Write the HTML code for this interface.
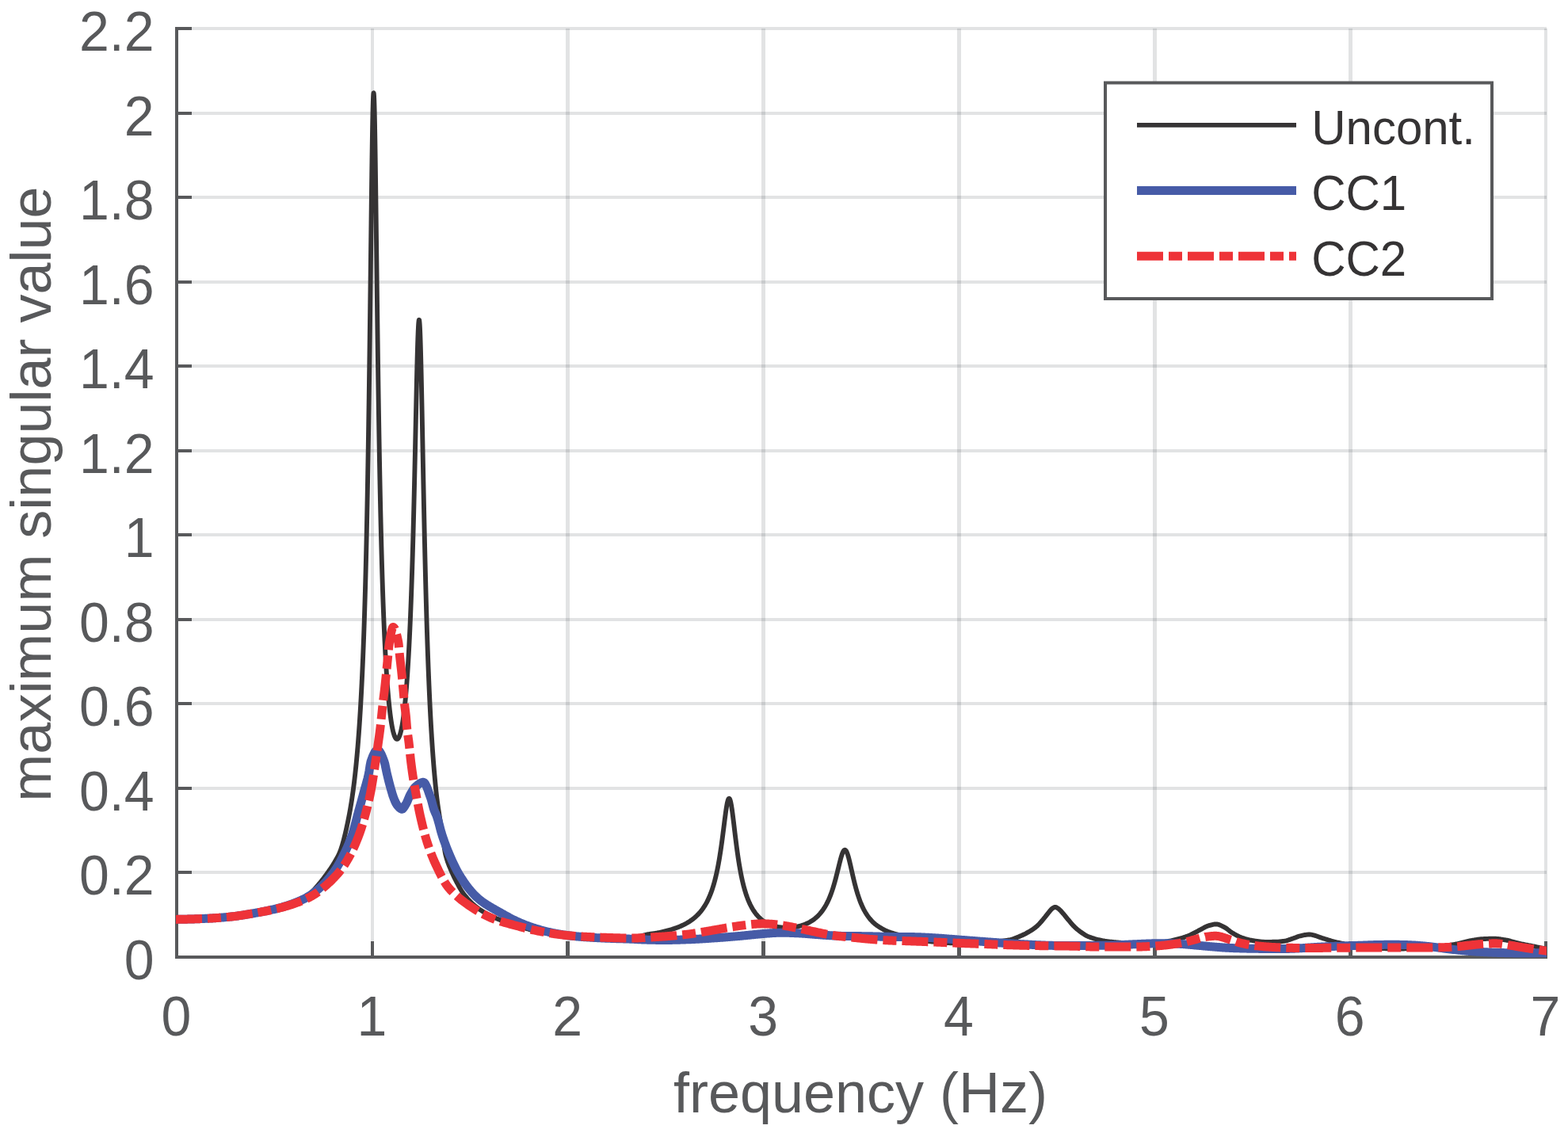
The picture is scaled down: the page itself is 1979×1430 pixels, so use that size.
<!DOCTYPE html>
<html lang="en"><head><meta charset="utf-8"><title>Maximum singular value vs frequency</title>
<style>
html,body{margin:0;padding:0;background:#fff;}
body{width:1979px;height:1430px;overflow:hidden;}
svg{display:block;}
text{font-family:"Liberation Sans", sans-serif;}
.tk{font-size:68px;fill:#58595b;}
.lb{font-size:72px;fill:#58595b;}
.lg{font-size:60px;fill:#353334;}
</style></head><body>
<svg width="1979" height="1430" viewBox="0 0 1979 1430" role="img" aria-label="Maximum singular value versus frequency">
<rect x="0" y="0" width="1979" height="1430" fill="#ffffff"/>
<g fill="#14161e" fill-opacity="0.12" shape-rendering="crispEdges">
<rect x="468" y="36" width="4" height="1170"/>
<rect x="714" y="36" width="5" height="1170"/>
<rect x="961" y="36" width="5" height="1170"/>
<rect x="1208" y="36" width="5" height="1170"/>
<rect x="1455" y="36" width="5" height="1170"/>
<rect x="1702" y="36" width="5" height="1170"/>
<rect x="1949" y="36" width="4" height="1170"/>
<rect x="225" y="1099" width="1727" height="4"/>
<rect x="225" y="993" width="1727" height="4"/>
<rect x="225" y="886" width="1727" height="4"/>
<rect x="225" y="780" width="1727" height="4"/>
<rect x="225" y="673" width="1727" height="4"/>
<rect x="225" y="567" width="1727" height="4"/>
<rect x="225" y="460" width="1727" height="4"/>
<rect x="225" y="354" width="1727" height="4"/>
<rect x="225" y="247" width="1727" height="4"/>
<rect x="225" y="141" width="1727" height="4"/>
<rect x="225" y="34" width="1727" height="4"/>
</g>
<g fill="#58595b" shape-rendering="crispEdges">
<rect x="221" y="34" width="4" height="1176"/>
<rect x="221" y="1206" width="1732" height="4"/>
<rect x="468" y="1188" width="4" height="20"/>
<rect x="714" y="1188" width="5" height="20"/>
<rect x="961" y="1188" width="5" height="20"/>
<rect x="1208" y="1188" width="5" height="20"/>
<rect x="1455" y="1188" width="5" height="20"/>
<rect x="1702" y="1188" width="5" height="20"/>
<rect x="1949" y="1188" width="4" height="20"/>
<rect x="223" y="1099" width="19" height="4"/>
<rect x="223" y="993" width="19" height="4"/>
<rect x="223" y="886" width="19" height="4"/>
<rect x="223" y="780" width="19" height="4"/>
<rect x="223" y="673" width="19" height="4"/>
<rect x="223" y="567" width="19" height="4"/>
<rect x="223" y="460" width="19" height="4"/>
<rect x="223" y="354" width="19" height="4"/>
<rect x="223" y="247" width="19" height="4"/>
<rect x="223" y="141" width="19" height="4"/>
<rect x="223" y="34" width="19" height="4"/>
</g>
<text class="tk" text-anchor="end" transform="translate(194.5 1236) scale(1 1.04)">0</text>
<text class="tk" text-anchor="end" transform="translate(194.5 1129.45) scale(1 1.04)">0.2</text>
<text class="tk" text-anchor="end" transform="translate(194.5 1022.91) scale(1 1.04)">0.4</text>
<text class="tk" text-anchor="end" transform="translate(194.5 916.36) scale(1 1.04)">0.6</text>
<text class="tk" text-anchor="end" transform="translate(194.5 809.82) scale(1 1.04)">0.8</text>
<text class="tk" text-anchor="end" transform="translate(194.5 703.27) scale(1 1.04)">1</text>
<text class="tk" text-anchor="end" transform="translate(194.5 596.73) scale(1 1.04)">1.2</text>
<text class="tk" text-anchor="end" transform="translate(194.5 490.18) scale(1 1.04)">1.4</text>
<text class="tk" text-anchor="end" transform="translate(194.5 383.64) scale(1 1.04)">1.6</text>
<text class="tk" text-anchor="end" transform="translate(194.5 277.09) scale(1 1.04)">1.8</text>
<text class="tk" text-anchor="end" transform="translate(194.5 170.55) scale(1 1.04)">2</text>
<text class="tk" text-anchor="end" transform="translate(194.5 64) scale(1 1.04)">2.2</text>
<text class="tk" text-anchor="middle" transform="translate(222.5 1307.3) scale(1 1.04)">0</text>
<text class="tk" text-anchor="middle" transform="translate(469.36 1307.3) scale(1 1.04)">1</text>
<text class="tk" text-anchor="middle" transform="translate(716.21 1307.3) scale(1 1.04)">2</text>
<text class="tk" text-anchor="middle" transform="translate(963.07 1307.3) scale(1 1.04)">3</text>
<text class="tk" text-anchor="middle" transform="translate(1209.93 1307.3) scale(1 1.04)">4</text>
<text class="tk" text-anchor="middle" transform="translate(1456.79 1307.3) scale(1 1.04)">5</text>
<text class="tk" text-anchor="middle" transform="translate(1703.64 1307.3) scale(1 1.04)">6</text>
<text class="tk" text-anchor="middle" transform="translate(1950.5 1307.3) scale(1 1.04)">7</text>
<text class="lb" text-anchor="middle" transform="translate(1086 1403.8) scale(1 1.0)">frequency (Hz)</text>
<text class="lb" text-anchor="middle" transform="translate(64 623.5) rotate(-90) scale(1 1.0)">maximum singular value</text>
<defs><clipPath id="plotclip"><rect x="222" y="20" width="1730" height="1200"/></clipPath></defs>
<g fill="none" stroke-linejoin="round" stroke-linecap="butt" clip-path="url(#plotclip)">
<path stroke="#353334" stroke-width="5.9" d="M219 1160.4 L220 1160.4 L221 1160.4 L222 1160.39 L223 1160.38 L224 1160.37 L225 1160.36 L226 1160.35 L227 1160.33 L228 1160.32 L229 1160.3 L230 1160.28 L231 1160.26 L232 1160.24 L233 1160.22 L234 1160.19 L235 1160.17 L236 1160.14 L237 1160.12 L238 1160.09 L239 1160.06 L240 1160.04 L241 1160.01 L242 1159.98 L243 1159.94 L244 1159.91 L245 1159.88 L246 1159.85 L247 1159.81 L248 1159.78 L249 1159.74 L250 1159.71 L251 1159.67 L252 1159.63 L253 1159.59 L254 1159.55 L255 1159.52 L256 1159.48 L257 1159.44 L258 1159.39 L259 1159.35 L260 1159.31 L260.7 1159.28 L261 1159.26 L262 1159.22 L263 1159.17 L264 1159.12 L265 1159.07 L266 1159.01 L267 1158.96 L268 1158.9 L269 1158.84 L270 1158.78 L271 1158.72 L272 1158.66 L273 1158.59 L274 1158.52 L275 1158.45 L276 1158.38 L277 1158.3 L278 1158.22 L279 1158.14 L280 1158.06 L281 1157.98 L282 1157.9 L283 1157.81 L284 1157.72 L285 1157.63 L286 1157.54 L287 1157.45 L288 1157.35 L289 1157.25 L290 1157.15 L291 1157.04 L292 1156.94 L293 1156.82 L294 1156.71 L295 1156.59 L296 1156.47 L297 1156.35 L298 1156.22 L299 1156.09 L300 1155.95 L301 1155.81 L302 1155.67 L303 1155.52 L304 1155.38 L305 1155.22 L306 1155.07 L307 1154.91 L308 1154.76 L309 1154.59 L310 1154.43 L311 1154.27 L312 1154.1 L313 1153.93 L314 1153.77 L315 1153.6 L316 1153.43 L317 1153.25 L318 1153.08 L319 1152.91 L320 1152.74 L321 1152.56 L321.4 1152.49 L322 1152.39 L323 1152.21 L324 1152.03 L325 1151.86 L326 1151.68 L327 1151.5 L328 1151.32 L329 1151.13 L330 1150.95 L331 1150.77 L332 1150.58 L333 1150.39 L334 1150.2 L335 1150 L336 1149.81 L337 1149.61 L338 1149.41 L339 1149.2 L340 1149 L341 1148.79 L342 1148.58 L343 1148.36 L344 1148.14 L345 1147.92 L346 1147.7 L347 1147.47 L348 1147.24 L349 1147 L350 1146.77 L351 1146.53 L351.7 1146.36 L352 1146.28 L353 1146.04 L354 1145.79 L355 1145.54 L356 1145.28 L357 1145.02 L358 1144.76 L359 1144.5 L360 1144.23 L361 1143.95 L362 1143.67 L363 1143.39 L364 1143.09 L365 1142.8 L366 1142.49 L367 1142.17 L368 1141.85 L369 1141.51 L370 1141.17 L371 1140.81 L372 1140.44 L373 1140.05 L374 1139.65 L375 1139.23 L376 1138.79 L377 1138.32 L378 1137.84 L379 1137.32 L380 1136.77 L381 1136.2 L382 1135.58 L382.1 1135.52 L383 1134.93 L384 1134.24 L385 1133.52 L386 1132.75 L387 1131.94 L388 1131.1 L389 1130.22 L390 1129.31 L391 1128.36 L392 1127.39 L393 1126.38 L394 1125.36 L395 1124.31 L396 1123.24 L397 1122.15 L397.8 1121.26 L398 1121.04 L399 1119.92 L400 1118.77 L401 1117.62 L402 1116.44 L403 1115.25 L404 1114.04 L405 1112.82 L406 1111.57 L406.3 1111.19 L407 1110.31 L408 1109.02 L409 1107.72 L410 1106.4 L411 1105.05 L412 1103.69 L413 1102.31 L414 1100.91 L415 1099.48 L416 1098.04 L417 1096.57 L418 1095.06 L419 1093.53 L419.8 1092.27 L420 1091.95 L421 1090.35 L422 1088.72 L423 1087.05 L424 1085.34 L425 1083.58 L425.25 1083.12 L425.5 1082.67 L425.75 1082.21 L426 1081.74 L426.25 1081.26 L426.5 1080.77 L426.75 1080.28 L427 1079.77 L427.25 1079.26 L427.5 1078.73 L427.75 1078.19 L428 1077.63 L428.25 1077.06 L428.5 1076.48 L428.75 1075.88 L429 1075.27 L429.25 1074.64 L429.5 1073.99 L429.75 1073.32 L430 1072.63 L430.25 1071.93 L430.5 1071.21 L430.75 1070.47 L431 1069.71 L431.25 1068.93 L431.5 1068.14 L431.75 1067.33 L432 1066.5 L432.25 1065.66 L432.5 1064.79 L432.75 1063.92 L433 1063.02 L433.25 1062.11 L433.5 1061.18 L433.75 1060.24 L434 1059.28 L434.25 1058.31 L434.5 1057.32 L434.75 1056.32 L435 1055.3 L435.25 1054.27 L435.5 1053.23 L435.6 1052.81 L435.75 1052.17 L436 1051.1 L436.25 1050.01 L436.5 1048.91 L436.75 1047.8 L437 1046.68 L437.25 1045.54 L437.5 1044.4 L437.75 1043.25 L438 1042.09 L438.25 1040.92 L438.5 1039.74 L438.75 1038.55 L439 1037.35 L439.25 1036.14 L439.5 1034.91 L439.75 1033.68 L440 1032.43 L440.25 1031.16 L440.5 1029.88 L440.75 1028.57 L441 1027.24 L441.25 1025.89 L441.5 1024.52 L441.75 1023.13 L442 1021.71 L442.25 1020.27 L442.3 1019.98 L442.5 1018.81 L442.75 1017.32 L443 1015.8 L443.25 1014.26 L443.5 1012.7 L443.75 1011.1 L444 1009.48 L444.25 1007.83 L444.5 1006.15 L444.75 1004.44 L445 1002.69 L445.25 1000.92 L445.5 999.11 L445.75 997.27 L446 995.39 L446.25 993.48 L446.4 992.31 L446.5 991.53 L446.75 989.54 L447 987.52 L447.25 985.45 L447.5 983.35 L447.75 981.2 L448 979.01 L448.25 976.77 L448.5 974.48 L448.6 973.56 L448.75 972.15 L449 969.77 L449.25 967.34 L449.5 964.86 L449.75 962.32 L450 959.73 L450.25 957.08 L450.5 954.37 L450.75 951.6 L451 948.77 L451.25 945.87 L451.3 945.28 L451.5 942.91 L451.75 939.87 L452 936.76 L452.25 933.58 L452.5 930.32 L452.75 926.99 L453 923.57 L453.25 920.06 L453.5 916.47 L453.75 912.78 L453.8 912.03 L454 909 L454.25 905.12 L454.5 901.13 L454.75 897.04 L455 892.84 L455.05 891.99 L455.1 891.13 L455.15 890.27 L455.2 889.4 L455.25 888.53 L455.3 887.65 L455.35 886.77 L455.4 885.88 L455.45 884.99 L455.5 884.1 L455.55 883.2 L455.6 882.29 L455.65 881.38 L455.7 880.46 L455.75 879.54 L455.8 878.61 L455.85 877.68 L455.9 876.74 L455.95 875.8 L456 874.85 L456.05 873.9 L456.1 872.94 L456.15 871.98 L456.2 871.01 L456.25 870.04 L456.3 869.05 L456.35 868.07 L456.4 867.08 L456.45 866.08 L456.5 865.08 L456.55 864.07 L456.6 863.05 L456.65 862.03 L456.7 861.01 L456.75 859.97 L456.8 858.93 L456.85 857.89 L456.9 856.84 L456.95 855.78 L457 854.72 L457.05 853.65 L457.1 852.57 L457.15 851.49 L457.2 850.4 L457.25 849.31 L457.3 848.21 L457.35 847.1 L457.4 845.98 L457.45 844.86 L457.5 843.73 L457.55 842.6 L457.6 841.46 L457.65 840.31 L457.7 839.15 L457.75 837.99 L457.8 836.82 L457.85 835.64 L457.9 834.46 L457.95 833.26 L458 832.06 L458.05 830.86 L458.1 829.64 L458.15 828.42 L458.2 827.19 L458.25 825.96 L458.3 824.71 L458.35 823.46 L458.4 822.2 L458.45 820.93 L458.5 819.65 L458.55 818.37 L458.6 817.08 L458.65 815.78 L458.7 814.47 L458.75 813.15 L458.8 811.83 L458.85 810.49 L458.9 809.15 L458.95 807.8 L459 806.44 L459.05 805.07 L459.1 803.69 L459.15 802.3 L459.2 800.91 L459.25 799.5 L459.3 798.09 L459.35 796.67 L459.4 795.23 L459.45 793.79 L459.5 792.34 L459.55 790.88 L459.6 789.41 L459.65 787.93 L459.7 786.44 L459.75 784.94 L459.8 783.43 L459.85 781.91 L459.9 780.38 L459.95 778.84 L460 777.28 L460.05 775.72 L460.1 774.15 L460.15 772.57 L460.2 770.97 L460.25 769.37 L460.3 767.75 L460.35 766.13 L460.4 764.49 L460.45 762.84 L460.5 761.18 L460.55 759.51 L460.6 757.83 L460.65 756.13 L460.7 754.43 L460.75 752.71 L460.8 750.98 L460.85 749.24 L460.9 747.48 L460.95 745.71 L461 743.94 L461.05 742.14 L461.1 740.34 L461.15 738.52 L461.2 736.69 L461.25 734.85 L461.3 733 L461.35 731.13 L461.4 729.25 L461.45 727.35 L461.5 725.44 L461.55 723.52 L461.6 721.58 L461.65 719.63 L461.7 717.67 L461.75 715.69 L461.8 713.7 L461.85 711.69 L461.9 709.67 L461.95 707.64 L462 705.59 L462.05 703.52 L462.1 701.44 L462.15 699.35 L462.2 697.24 L462.25 695.11 L462.3 692.97 L462.35 690.81 L462.4 688.64 L462.45 686.45 L462.5 684.25 L462.55 682.03 L462.6 679.79 L462.65 677.54 L462.7 675.27 L462.75 672.98 L462.8 670.68 L462.85 668.36 L462.9 666.02 L462.95 663.67 L463 661.3 L463.05 658.91 L463.1 656.5 L463.15 654.07 L463.2 651.63 L463.25 649.17 L463.3 646.69 L463.35 644.2 L463.4 641.68 L463.45 639.15 L463.5 636.59 L463.55 634.02 L463.6 631.43 L463.65 628.82 L463.7 626.19 L463.75 623.54 L463.8 620.88 L463.85 618.19 L463.9 615.48 L463.95 612.75 L464 610.01 L464.05 607.24 L464.1 604.45 L464.15 601.64 L464.2 598.82 L464.25 595.97 L464.3 593.1 L464.35 590.21 L464.4 587.29 L464.45 584.36 L464.5 581.41 L464.55 578.43 L464.6 575.43 L464.65 572.42 L464.7 569.38 L464.75 566.31 L464.8 563.23 L464.85 560.12 L464.9 557 L464.95 553.85 L465 550.68 L465.05 547.48 L465.1 544.27 L465.15 541.03 L465.2 537.77 L465.25 534.49 L465.3 531.18 L465.35 527.85 L465.4 524.5 L465.45 521.13 L465.5 517.73 L465.55 514.32 L465.6 510.88 L465.65 507.41 L465.7 503.93 L465.75 500.42 L465.8 496.89 L465.85 493.34 L465.9 489.77 L465.95 486.17 L466 482.55 L466.05 478.91 L466.1 475.25 L466.15 471.56 L466.2 467.86 L466.25 464.13 L466.3 460.38 L466.35 456.62 L466.4 452.83 L466.45 449.02 L466.5 445.18 L466.55 441.33 L466.6 437.46 L466.65 433.57 L466.7 429.66 L466.75 425.73 L466.8 421.79 L466.85 417.82 L466.9 413.84 L466.95 409.84 L467 405.82 L467.05 401.79 L467.07 400.17 L467.1 397.74 L467.15 393.67 L467.2 389.59 L467.25 385.49 L467.3 381.39 L467.35 377.26 L467.4 373.13 L467.45 368.98 L467.5 364.83 L467.55 360.66 L467.6 356.48 L467.65 352.3 L467.7 348.1 L467.75 343.9 L467.8 339.69 L467.85 335.48 L467.9 331.26 L467.95 327.04 L468 322.82 L468.05 318.6 L468.1 314.37 L468.15 310.15 L468.2 305.93 L468.25 301.72 L468.3 297.5 L468.35 293.3 L468.4 289.1 L468.45 284.91 L468.5 280.73 L468.55 276.57 L468.6 272.41 L468.65 268.28 L468.7 264.15 L468.75 260.05 L468.8 255.96 L468.85 251.9 L468.9 247.86 L468.95 243.85 L469 239.86 L469.05 235.9 L469.1 231.97 L469.15 228.07 L469.2 224.21 L469.25 220.38 L469.3 216.59 L469.35 212.84 L469.4 209.13 L469.45 205.47 L469.5 201.85 L469.55 198.28 L469.6 194.76 L469.65 191.3 L469.7 187.89 L469.75 184.53 L469.8 181.23 L469.85 178 L469.9 174.82 L469.95 171.72 L470 168.67 L470.05 165.7 L470.1 162.8 L470.15 159.97 L470.2 157.22 L470.25 154.55 L470.3 151.95 L470.35 149.43 L470.4 147 L470.45 144.65 L470.5 142.39 L470.55 140.22 L470.6 138.14 L470.65 136.15 L470.7 134.25 L470.75 132.45 L470.8 130.74 L470.85 129.13 L470.9 127.62 L470.95 126.21 L471 124.9 L471.05 123.69 L471.1 122.59 L471.15 121.59 L471.2 120.69 L471.25 119.9 L471.3 119.22 L471.35 118.65 L471.4 118.18 L471.45 117.82 L471.5 117.56 L471.55 117.42 L471.6 117.38 L471.65 117.45 L471.7 117.63 L471.75 117.92 L471.8 118.31 L471.85 118.81 L471.9 119.42 L471.95 120.13 L472 120.95 L472.05 121.87 L472.1 122.9 L472.15 124.03 L472.2 125.26 L472.25 126.59 L472.3 128.01 L472.35 129.54 L472.4 131.16 L472.45 132.88 L472.5 134.69 L472.55 136.59 L472.6 138.58 L472.65 140.66 L472.7 142.83 L472.75 145.08 L472.8 147.42 L472.85 149.83 L472.9 152.33 L472.95 154.9 L473 157.55 L473.05 160.27 L473.1 163.07 L473.15 165.93 L473.2 168.86 L473.25 171.86 L473.3 174.91 L473.35 178.03 L473.4 181.21 L473.45 184.45 L473.5 187.74 L473.55 191.08 L473.6 194.48 L473.65 197.92 L473.7 201.41 L473.75 204.94 L473.8 208.52 L473.85 212.14 L473.9 215.79 L473.95 219.49 L474 223.21 L474.05 226.97 L474.1 230.76 L474.15 234.58 L474.2 238.43 L474.25 242.3 L474.3 246.2 L474.35 250.12 L474.4 254.06 L474.45 258.02 L474.5 261.99 L474.55 265.98 L474.6 269.99 L474.65 274.01 L474.7 278.04 L474.75 282.07 L474.8 286.12 L474.85 290.18 L474.9 294.24 L474.95 298.3 L475 302.37 L475.05 306.44 L475.1 310.51 L475.15 314.58 L475.2 318.64 L475.25 322.71 L475.3 326.77 L475.35 330.83 L475.4 334.89 L475.45 338.93 L475.5 342.97 L475.55 347.01 L475.6 351.03 L475.65 355.04 L475.7 359.05 L475.75 363.04 L475.8 367.02 L475.85 370.99 L475.9 374.95 L475.95 378.89 L476 382.82 L476.05 386.73 L476.1 390.63 L476.15 394.51 L476.2 398.38 L476.25 402.23 L476.3 406.07 L476.35 409.88 L476.4 413.68 L476.45 417.46 L476.5 421.22 L476.55 424.97 L476.6 428.69 L476.65 432.4 L476.7 436.08 L476.75 439.75 L476.8 443.39 L476.85 447.02 L476.9 450.62 L476.95 454.21 L477 457.77 L477.05 461.31 L477.1 464.83 L477.15 468.33 L477.2 471.81 L477.25 475.27 L477.3 478.71 L477.35 482.12 L477.4 485.51 L477.45 488.88 L477.5 492.23 L477.55 495.56 L477.6 498.87 L477.65 502.15 L477.7 505.41 L477.75 508.65 L477.8 511.87 L477.85 515.07 L477.9 518.24 L477.95 521.39 L478 524.52 L478.05 527.63 L478.1 530.72 L478.15 533.79 L478.2 536.83 L478.25 539.85 L478.3 542.85 L478.35 545.83 L478.4 548.79 L478.45 551.73 L478.5 554.64 L478.55 557.54 L478.6 560.41 L478.65 563.27 L478.7 566.1 L478.75 568.91 L478.8 571.7 L478.85 574.47 L478.9 577.22 L478.95 579.95 L479 582.66 L479.05 585.35 L479.1 588.02 L479.15 590.67 L479.2 593.3 L479.25 595.91 L479.3 598.5 L479.35 601.07 L479.4 603.62 L479.45 606.16 L479.5 608.67 L479.55 611.17 L479.6 613.64 L479.65 616.1 L479.7 618.54 L479.75 620.96 L479.8 623.37 L479.85 625.75 L479.9 628.12 L479.95 630.47 L480 632.8 L480.05 635.11 L480.1 637.41 L480.15 639.69 L480.2 641.95 L480.25 644.2 L480.3 646.43 L480.35 648.64 L480.4 650.83 L480.45 653.01 L480.5 655.17 L480.55 657.32 L480.6 659.45 L480.65 661.56 L480.7 663.66 L480.75 665.74 L480.8 667.8 L480.85 669.85 L480.9 671.89 L480.95 673.91 L481 675.91 L481.05 677.9 L481.1 679.88 L481.15 681.84 L481.2 683.78 L481.25 685.71 L481.3 687.63 L481.35 689.53 L481.4 691.42 L481.45 693.29 L481.5 695.15 L481.55 697 L481.6 698.83 L481.65 700.65 L481.7 702.46 L481.75 704.25 L481.8 706.03 L481.85 707.79 L481.9 709.54 L481.95 711.28 L482 713.01 L482.05 714.72 L482.1 716.42 L482.15 718.11 L482.2 719.79 L482.25 721.45 L482.3 723.1 L482.35 724.74 L482.4 726.37 L482.45 727.99 L482.5 729.59 L482.55 731.18 L482.6 732.76 L482.65 734.33 L482.7 735.89 L482.75 737.43 L482.8 738.97 L482.85 740.49 L482.9 742.01 L482.95 743.51 L483 745 L483.05 746.48 L483.1 747.95 L483.15 749.41 L483.2 750.86 L483.25 752.29 L483.3 753.72 L483.35 755.14 L483.4 756.55 L483.45 757.94 L483.5 759.33 L483.55 760.71 L483.6 762.08 L483.65 763.43 L483.7 764.78 L483.75 766.12 L483.8 767.45 L483.85 768.77 L483.9 770.08 L483.95 771.38 L484 772.67 L484.05 773.95 L484.1 775.23 L484.15 776.49 L484.2 777.75 L484.25 778.99 L484.3 780.23 L484.35 781.46 L484.4 782.68 L484.45 783.9 L484.5 785.1 L484.55 786.29 L484.6 787.48 L484.65 788.66 L484.7 789.83 L484.75 790.99 L484.8 792.15 L484.85 793.29 L484.9 794.43 L484.95 795.56 L485 796.68 L485.05 797.8 L485.1 798.91 L485.15 800 L485.2 801.1 L485.25 802.18 L485.3 803.26 L485.35 804.33 L485.4 805.39 L485.45 806.44 L485.5 807.49 L485.55 808.53 L485.6 809.56 L485.65 810.59 L485.7 811.61 L485.75 812.62 L485.8 813.63 L485.85 814.62 L485.9 815.61 L485.95 816.6 L486 817.58 L486.05 818.55 L486.1 819.51 L486.15 820.47 L486.2 821.42 L486.25 822.37 L486.3 823.31 L486.35 824.24 L486.4 825.16 L486.45 826.08 L486.5 827 L486.55 827.9 L486.6 828.8 L486.65 829.7 L486.7 830.59 L486.75 831.47 L486.8 832.35 L486.85 833.22 L486.9 834.08 L486.95 834.94 L487 835.8 L487.05 836.64 L487.1 837.49 L487.15 838.32 L487.2 839.15 L487.25 839.98 L487.3 840.8 L487.35 841.61 L487.4 842.42 L487.45 843.22 L487.5 844.02 L487.55 844.81 L487.6 845.6 L487.65 846.38 L487.7 847.15 L487.75 847.93 L487.8 848.69 L487.85 849.45 L487.9 850.21 L487.95 850.96 L488 851.7 L488.05 852.44 L488.1 853.18 L488.15 853.91 L488.2 854.63 L488.25 855.36 L488.3 856.07 L488.35 856.78 L488.4 857.49 L488.45 858.19 L488.5 858.89 L488.55 859.58 L488.6 860.27 L488.65 860.95 L488.7 861.63 L488.75 862.3 L488.8 862.97 L488.85 863.63 L488.9 864.29 L488.95 864.95 L489 865.6 L489.05 866.25 L489.1 866.89 L489.15 867.52 L489.2 868.16 L489.25 868.79 L489.3 869.41 L489.35 870.03 L489.4 870.65 L489.45 871.26 L489.5 871.87 L489.55 872.47 L489.6 873.07 L489.65 873.67 L489.7 874.26 L489.75 874.85 L489.8 875.43 L489.85 876.01 L489.9 876.59 L489.95 877.16 L490 877.73 L490.05 878.29 L490.1 878.85 L490.15 879.41 L490.2 879.96 L490.25 880.51 L490.3 881.05 L490.35 881.59 L490.4 882.13 L490.45 882.66 L490.5 883.19 L490.55 883.72 L490.6 884.24 L490.65 884.76 L490.7 885.27 L490.75 885.78 L490.8 886.29 L490.85 886.8 L490.9 887.3 L490.95 887.79 L491 888.29 L491.05 888.78 L491.1 889.26 L491.15 889.75 L491.2 890.23 L491.25 890.7 L491.3 891.18 L491.35 891.65 L491.4 892.11 L491.45 892.57 L491.5 893.03 L491.55 893.49 L491.6 893.94 L491.65 894.39 L491.7 894.84 L491.75 895.28 L491.8 895.72 L491.85 896.16 L491.9 896.59 L491.95 897.02 L492 897.45 L492.05 897.87 L492.1 898.29 L492.15 898.71 L492.2 899.13 L492.25 899.54 L492.3 899.95 L492.35 900.35 L492.4 900.75 L492.45 901.15 L492.5 901.55 L492.55 901.94 L492.6 902.33 L492.65 902.72 L492.7 903.1 L492.75 903.48 L492.8 903.86 L492.85 904.24 L492.9 904.61 L492.95 904.98 L493 905.35 L493.05 905.71 L493.1 906.07 L493.15 906.43 L493.2 906.79 L493.25 907.14 L493.3 907.49 L493.35 907.83 L493.4 908.18 L493.45 908.52 L493.5 908.86 L493.55 909.19 L493.6 909.53 L493.65 909.86 L493.7 910.19 L493.75 910.51 L493.8 910.83 L493.85 911.15 L493.9 911.47 L493.95 911.78 L494 912.09 L494.05 912.4 L494.1 912.71 L494.15 913.01 L494.2 913.31 L494.25 913.61 L494.3 913.91 L494.35 914.2 L494.4 914.49 L494.45 914.78 L494.5 915.07 L494.55 915.35 L494.6 915.63 L494.65 915.91 L494.7 916.18 L494.75 916.46 L494.8 916.73 L494.85 916.99 L494.9 917.26 L494.95 917.52 L495 917.78 L495.05 918.04 L495.1 918.3 L495.15 918.55 L495.2 918.8 L495.25 919.05 L495.3 919.29 L495.35 919.54 L495.4 919.78 L495.45 920.02 L495.5 920.25 L495.55 920.49 L495.6 920.72 L495.65 920.95 L495.7 921.17 L495.75 921.4 L495.8 921.62 L495.85 921.84 L495.9 922.06 L495.95 922.27 L496 922.49 L496.05 922.7 L496.1 922.9 L496.15 923.11 L496.2 923.31 L496.25 923.52 L496.3 923.71 L496.35 923.91 L496.4 924.11 L496.45 924.3 L496.5 924.49 L496.55 924.68 L496.6 924.86 L496.65 925.04 L496.7 925.23 L496.75 925.4 L496.8 925.58 L496.85 925.76 L496.9 925.93 L496.95 926.1 L497 926.27 L497.05 926.43 L497.1 926.59 L497.15 926.76 L497.2 926.91 L497.25 927.07 L497.3 927.23 L497.35 927.38 L497.4 927.53 L497.45 927.68 L497.5 927.82 L497.55 927.97 L497.6 928.11 L497.65 928.25 L497.7 928.39 L497.75 928.52 L497.8 928.65 L497.85 928.79 L497.9 928.91 L497.95 929.04 L498 929.17 L498.05 929.29 L498.1 929.41 L498.15 929.53 L498.2 929.64 L498.25 929.76 L498.3 929.87 L498.35 929.98 L498.4 930.09 L498.45 930.2 L498.5 930.3 L498.55 930.4 L498.6 930.5 L498.65 930.6 L498.7 930.7 L498.75 930.79 L498.8 930.88 L498.85 930.97 L498.9 931.06 L498.95 931.14 L499 931.23 L499.05 931.31 L499.1 931.39 L499.15 931.46 L499.2 931.54 L499.25 931.61 L499.3 931.68 L499.35 931.75 L499.4 931.82 L499.45 931.89 L499.5 931.95 L499.55 932.01 L499.6 932.07 L499.65 932.13 L499.7 932.18 L499.75 932.23 L499.8 932.28 L499.85 932.33 L499.9 932.38 L499.95 932.43 L500 932.47 L500.05 932.51 L500.1 932.55 L500.15 932.59 L500.2 932.62 L500.25 932.65 L500.3 932.68 L500.35 932.71 L500.4 932.74 L500.45 932.77 L500.5 932.79 L500.55 932.81 L500.6 932.83 L500.65 932.85 L500.7 932.86 L500.75 932.87 L500.8 932.88 L500.85 932.89 L500.9 932.9 L500.95 932.91 L501 932.91 L501.05 932.91 L501.1 932.91 L501.15 932.91 L501.2 932.9 L501.25 932.89 L501.3 932.88 L501.35 932.87 L501.4 932.86 L501.45 932.85 L501.5 932.83 L501.55 932.81 L501.6 932.79 L501.65 932.77 L501.7 932.74 L501.75 932.72 L501.8 932.69 L501.85 932.66 L501.9 932.62 L501.95 932.59 L502 932.55 L502.05 932.51 L502.1 932.47 L502.15 932.43 L502.2 932.38 L502.25 932.34 L502.3 932.29 L502.35 932.24 L502.4 932.19 L502.45 932.13 L502.5 932.07 L502.55 932.02 L502.6 931.95 L502.65 931.89 L502.7 931.83 L502.75 931.76 L502.8 931.69 L502.85 931.62 L502.9 931.55 L502.95 931.47 L503 931.4 L503.05 931.32 L503.1 931.24 L503.15 931.15 L503.2 931.07 L503.25 930.98 L503.3 930.89 L503.35 930.8 L503.4 930.71 L503.45 930.61 L503.5 930.51 L503.55 930.41 L503.6 930.31 L503.65 930.21 L503.7 930.1 L503.75 930 L503.8 929.89 L503.85 929.77 L503.9 929.66 L503.95 929.54 L504 929.43 L504.05 929.31 L504.1 929.18 L504.15 929.06 L504.2 928.93 L504.25 928.8 L504.3 928.67 L504.35 928.54 L504.4 928.41 L504.45 928.27 L504.5 928.13 L504.55 927.99 L504.6 927.85 L504.65 927.7 L504.7 927.55 L504.75 927.4 L504.8 927.25 L504.85 927.1 L504.9 926.94 L504.95 926.78 L505 926.62 L505.05 926.46 L505.1 926.3 L505.15 926.13 L505.2 925.96 L505.25 925.79 L505.3 925.61 L505.35 925.44 L505.4 925.26 L505.45 925.08 L505.5 924.9 L505.55 924.71 L505.6 924.53 L505.65 924.34 L505.7 924.15 L505.75 923.95 L505.8 923.76 L505.85 923.56 L505.9 923.36 L505.95 923.16 L506 922.95 L506.05 922.74 L506.1 922.53 L506.15 922.32 L506.2 922.11 L506.25 921.89 L506.3 921.67 L506.35 921.45 L506.4 921.23 L506.45 921.01 L506.5 920.78 L506.55 920.55 L506.6 920.31 L506.65 920.08 L506.7 919.84 L506.75 919.6 L506.8 919.36 L506.85 919.12 L506.9 918.87 L506.95 918.62 L507 918.37 L507.05 918.12 L507.1 917.86 L507.15 917.6 L507.2 917.34 L507.25 917.08 L507.3 916.81 L507.35 916.54 L507.4 916.27 L507.45 916 L507.5 915.72 L507.55 915.44 L507.6 915.16 L507.65 914.88 L507.7 914.59 L507.75 914.3 L507.8 914.01 L507.85 913.72 L507.9 913.42 L507.95 913.12 L508 912.82 L508.05 912.52 L508.1 912.21 L508.15 911.9 L508.2 911.59 L508.25 911.27 L508.3 910.96 L508.35 910.64 L508.4 910.32 L508.45 909.99 L508.5 909.66 L508.55 909.33 L508.6 909 L508.65 908.66 L508.7 908.32 L508.75 907.98 L508.8 907.64 L508.85 907.29 L508.9 906.94 L508.95 906.59 L509 906.24 L509.05 905.88 L509.1 905.52 L509.15 905.15 L509.2 904.79 L509.25 904.42 L509.3 904.05 L509.35 903.67 L509.4 903.29 L509.45 902.91 L509.5 902.53 L509.55 902.14 L509.6 901.75 L509.65 901.36 L509.7 900.96 L509.75 900.57 L509.8 900.16 L509.85 899.76 L509.9 899.35 L509.95 898.94 L510 898.53 L510.05 898.11 L510.1 897.69 L510.15 897.27 L510.2 896.84 L510.25 896.42 L510.3 895.98 L510.35 895.55 L510.4 895.11 L510.45 894.67 L510.5 894.22 L510.55 893.78 L510.6 893.32 L510.65 892.87 L510.7 892.41 L510.75 891.95 L510.8 891.49 L510.85 891.02 L510.9 890.55 L510.95 890.07 L511 889.6 L511.05 889.12 L511.1 888.63 L511.15 888.14 L511.2 887.65 L511.25 887.16 L511.3 886.66 L511.35 886.16 L511.4 885.65 L511.45 885.15 L511.5 884.63 L511.55 884.12 L511.6 883.6 L511.65 883.08 L511.7 882.55 L511.75 882.02 L511.8 881.49 L511.85 880.95 L511.9 880.41 L511.95 879.86 L512 879.32 L512.05 878.76 L512.1 878.21 L512.15 877.65 L512.2 877.09 L512.25 876.52 L512.3 875.95 L512.35 875.37 L512.4 874.79 L512.45 874.21 L512.5 873.62 L512.55 873.03 L512.6 872.44 L512.65 871.84 L512.7 871.24 L512.75 870.63 L512.8 870.02 L512.85 869.41 L512.9 868.79 L512.95 868.16 L513 867.54 L513.05 866.9 L513.1 866.27 L513.15 865.63 L513.2 864.99 L513.25 864.34 L513.3 863.68 L513.35 863.03 L513.4 862.37 L513.45 861.7 L513.5 861.03 L513.55 860.36 L513.6 859.68 L513.65 858.99 L513.7 858.31 L513.75 857.61 L513.8 856.92 L513.85 856.21 L513.9 855.51 L513.95 854.8 L514 854.08 L514.05 853.36 L514.1 852.64 L514.15 851.91 L514.2 851.17 L514.25 850.43 L514.3 849.69 L514.35 848.94 L514.4 848.18 L514.45 847.43 L514.5 846.66 L514.55 845.89 L514.6 845.12 L514.65 844.34 L514.7 843.56 L514.75 842.77 L514.8 841.97 L514.85 841.17 L514.9 840.37 L514.95 839.56 L515 838.74 L515.05 837.92 L515.1 837.09 L515.15 836.26 L515.2 835.43 L515.25 834.58 L515.3 833.74 L515.35 832.88 L515.4 832.02 L515.45 831.16 L515.5 830.29 L515.55 829.41 L515.6 828.53 L515.65 827.64 L515.7 826.75 L515.75 825.85 L515.8 824.95 L515.85 824.04 L515.9 823.12 L515.95 822.2 L516 821.27 L516.05 820.34 L516.1 819.4 L516.15 818.45 L516.2 817.5 L516.25 816.54 L516.3 815.57 L516.35 814.6 L516.4 813.62 L516.45 812.64 L516.5 811.65 L516.55 810.65 L516.6 809.65 L516.65 808.64 L516.7 807.62 L516.75 806.6 L516.8 805.57 L516.85 804.53 L516.9 803.49 L516.95 802.44 L517 801.38 L517.05 800.32 L517.1 799.25 L517.15 798.17 L517.2 797.09 L517.25 796 L517.3 794.9 L517.35 793.79 L517.4 792.68 L517.45 791.56 L517.5 790.44 L517.55 789.3 L517.6 788.16 L517.65 787.01 L517.7 785.85 L517.75 784.69 L517.8 783.52 L517.85 782.34 L517.9 781.15 L517.95 779.96 L518 778.76 L518.05 777.55 L518.1 776.33 L518.15 775.11 L518.2 773.87 L518.25 772.63 L518.3 771.38 L518.35 770.13 L518.4 768.86 L518.45 767.59 L518.5 766.31 L518.55 765.02 L518.6 763.72 L518.65 762.41 L518.7 761.1 L518.75 759.77 L518.8 758.44 L518.85 757.1 L518.9 755.76 L518.95 754.4 L519 753.03 L519.05 751.66 L519.1 750.28 L519.15 748.88 L519.2 747.48 L519.25 746.07 L519.3 744.66 L519.35 743.23 L519.4 741.79 L519.45 740.35 L519.5 738.89 L519.55 737.43 L519.6 735.96 L519.65 734.47 L519.7 732.98 L519.75 731.48 L519.8 729.97 L519.85 728.45 L519.9 726.93 L519.95 725.39 L520 723.84 L520.05 722.28 L520.1 720.72 L520.15 719.14 L520.2 717.55 L520.25 715.96 L520.3 714.35 L520.35 712.74 L520.4 711.11 L520.45 709.48 L520.5 707.83 L520.55 706.18 L520.6 704.51 L520.65 702.84 L520.7 701.15 L520.75 699.46 L520.8 697.76 L520.85 696.04 L520.9 694.32 L520.95 692.58 L521 690.84 L521.05 689.08 L521.1 687.32 L521.15 685.54 L521.2 683.76 L521.25 681.96 L521.3 680.16 L521.35 678.34 L521.4 676.51 L521.45 674.68 L521.5 672.83 L521.55 670.97 L521.6 669.11 L521.65 667.23 L521.7 665.34 L521.75 663.45 L521.8 661.54 L521.85 659.62 L521.9 657.69 L521.95 655.76 L522 653.81 L522.05 651.85 L522.1 649.88 L522.15 647.9 L522.2 645.92 L522.25 643.92 L522.3 641.91 L522.35 639.89 L522.4 637.87 L522.45 635.83 L522.5 633.79 L522.55 631.73 L522.6 629.66 L522.65 627.59 L522.7 625.51 L522.75 623.41 L522.8 621.31 L522.85 619.2 L522.9 617.08 L522.95 614.95 L523 612.82 L523.05 610.67 L523.1 608.52 L523.15 606.35 L523.2 604.18 L523.25 602.01 L523.3 599.82 L523.35 597.63 L523.4 595.42 L523.45 593.21 L523.5 591 L523.55 588.78 L523.6 586.55 L523.65 584.31 L523.7 582.07 L523.75 579.82 L523.8 577.56 L523.85 575.3 L523.9 573.04 L523.95 570.77 L524 568.49 L524.05 566.21 L524.1 563.93 L524.15 561.64 L524.2 559.34 L524.25 557.05 L524.3 554.75 L524.35 552.45 L524.4 550.14 L524.45 547.84 L524.5 545.53 L524.55 543.22 L524.6 540.91 L524.65 538.6 L524.7 536.29 L524.75 533.97 L524.8 531.66 L524.85 529.35 L524.9 527.05 L524.95 524.74 L525 522.44 L525.05 520.14 L525.1 517.84 L525.15 515.54 L525.2 513.26 L525.25 510.97 L525.3 508.69 L525.35 506.42 L525.4 504.16 L525.45 501.9 L525.5 499.65 L525.55 497.4 L525.6 495.17 L525.65 492.95 L525.7 490.73 L525.75 488.53 L525.8 486.34 L525.85 484.16 L525.9 482 L525.95 479.84 L526 477.71 L526.05 475.58 L526.1 473.48 L526.15 471.38 L526.2 469.31 L526.25 467.25 L526.3 465.22 L526.35 463.2 L526.4 461.2 L526.45 459.23 L526.5 457.27 L526.55 455.34 L526.6 453.43 L526.65 451.54 L526.7 449.68 L526.75 447.85 L526.8 446.04 L526.85 444.26 L526.9 442.5 L526.95 440.78 L527 439.08 L527.05 437.42 L527.1 435.79 L527.15 434.18 L527.2 432.62 L527.25 431.08 L527.3 429.58 L527.35 428.11 L527.4 426.68 L527.45 425.29 L527.5 423.94 L527.55 422.62 L527.6 421.34 L527.65 420.1 L527.7 418.9 L527.75 417.74 L527.8 416.63 L527.85 415.55 L527.9 414.52 L527.95 413.54 L528 412.59 L528.05 411.7 L528.1 410.84 L528.15 410.04 L528.2 409.28 L528.25 408.56 L528.3 407.9 L528.35 407.28 L528.4 406.71 L528.45 406.19 L528.5 405.72 L528.55 405.3 L528.6 404.92 L528.65 404.6 L528.7 404.33 L528.75 404.11 L528.8 403.94 L528.85 403.82 L528.9 403.76 L528.95 403.74 L529 403.78 L529.05 403.86 L529.1 404 L529.15 404.2 L529.2 404.44 L529.25 404.73 L529.3 405.08 L529.35 405.48 L529.4 405.93 L529.45 406.43 L529.5 406.98 L529.55 407.58 L529.6 408.23 L529.65 408.93 L529.7 409.69 L529.75 410.49 L529.8 411.34 L529.85 412.24 L529.9 413.19 L529.95 414.18 L530 415.23 L530.05 416.32 L530.1 417.45 L530.15 418.64 L530.2 419.87 L530.25 421.14 L530.3 422.46 L530.35 423.82 L530.4 425.22 L530.45 426.67 L530.5 428.15 L530.55 429.68 L530.6 431.25 L530.65 432.86 L530.7 434.5 L530.75 436.19 L530.8 437.91 L530.85 439.67 L530.9 441.46 L530.95 443.29 L531 445.15 L531.05 447.05 L531.1 448.97 L531.15 450.93 L531.2 452.92 L531.25 454.94 L531.3 456.99 L531.35 459.07 L531.4 461.17 L531.45 463.3 L531.5 465.46 L531.55 467.64 L531.6 469.85 L531.65 472.08 L531.7 474.33 L531.75 476.61 L531.8 478.9 L531.85 481.22 L531.9 483.55 L531.95 485.9 L532 488.28 L532.05 490.66 L532.1 493.07 L532.15 495.49 L532.2 497.92 L532.25 500.37 L532.3 502.83 L532.35 505.31 L532.4 507.79 L532.45 510.29 L532.5 512.8 L532.55 515.31 L532.6 517.84 L532.65 520.38 L532.7 522.92 L532.75 525.47 L532.8 528.03 L532.85 530.59 L532.9 533.16 L532.95 535.73 L533 538.31 L533.05 540.89 L533.1 543.47 L533.15 546.06 L533.2 548.65 L533.25 551.24 L533.3 553.83 L533.35 556.42 L533.4 559.01 L533.45 561.6 L533.5 564.2 L533.55 566.79 L533.6 569.37 L533.65 571.96 L533.7 574.54 L533.75 577.12 L533.8 579.7 L533.85 582.28 L533.9 584.85 L533.95 587.41 L534 589.97 L534.05 592.53 L534.1 595.08 L534.15 597.63 L534.2 600.17 L534.25 602.7 L534.3 605.23 L534.35 607.75 L534.4 610.26 L534.45 612.77 L534.5 615.27 L534.55 617.76 L534.6 620.24 L534.65 622.72 L534.7 625.18 L534.75 627.64 L534.8 630.09 L534.85 632.53 L534.9 634.97 L534.95 637.39 L535 639.81 L535.05 642.21 L535.1 644.61 L535.15 646.99 L535.2 649.37 L535.25 651.73 L535.3 654.09 L535.35 656.43 L535.4 658.77 L535.45 661.09 L535.5 663.41 L535.55 665.71 L535.6 668.01 L535.65 670.29 L535.7 672.56 L535.75 674.82 L535.8 677.07 L535.85 679.31 L535.9 681.54 L535.95 683.76 L536 685.96 L536.05 688.16 L536.1 690.34 L536.15 692.52 L536.2 694.68 L536.25 696.83 L536.3 698.97 L536.35 701.1 L536.4 703.21 L536.45 705.32 L536.5 707.41 L536.55 709.5 L536.6 711.57 L536.65 713.63 L536.7 715.68 L536.75 717.72 L536.8 719.74 L536.85 721.76 L536.9 723.76 L536.95 725.75 L537 727.74 L537.05 729.71 L537.1 731.67 L537.15 733.61 L537.2 735.55 L537.25 737.48 L537.3 739.39 L537.35 741.3 L537.4 743.19 L537.45 745.07 L537.5 746.94 L537.55 748.8 L537.6 750.65 L537.65 752.49 L537.7 754.32 L537.75 756.13 L537.8 757.94 L537.85 759.74 L537.9 761.52 L537.95 763.3 L538 765.06 L538.05 766.81 L538.1 768.56 L538.15 770.29 L538.2 772.01 L538.25 773.72 L538.3 775.43 L538.35 777.12 L538.4 778.8 L538.45 780.47 L538.5 782.13 L538.55 783.78 L538.6 785.43 L538.65 787.06 L538.7 788.68 L538.75 790.29 L538.8 791.89 L538.85 793.49 L538.9 795.07 L538.95 796.64 L539 798.21 L539.05 799.76 L539.1 801.31 L539.15 802.85 L539.2 804.37 L539.25 805.89 L539.3 807.4 L539.35 808.9 L539.4 810.39 L539.45 811.87 L539.5 813.34 L539.55 814.81 L539.6 816.26 L539.65 817.71 L539.7 819.15 L539.75 820.58 L539.8 822 L539.85 823.41 L539.9 824.81 L539.95 826.21 L540 827.59 L540.05 828.97 L540.1 830.34 L540.15 831.7 L540.2 833.06 L540.25 834.4 L540.3 835.74 L540.35 837.07 L540.4 838.39 L540.45 839.71 L540.5 841.01 L540.55 842.31 L540.6 843.6 L540.65 844.89 L540.7 846.16 L540.75 847.43 L540.8 848.69 L540.85 849.94 L540.9 851.19 L540.95 852.43 L541 853.66 L541.05 854.88 L541.1 856.1 L541.15 857.31 L541.2 858.51 L541.25 859.7 L541.3 860.89 L541.35 862.07 L541.4 863.25 L541.45 864.42 L541.5 865.58 L541.55 866.73 L541.6 867.88 L541.65 869.02 L541.7 870.15 L541.75 871.28 L541.8 872.4 L541.85 873.52 L541.9 874.63 L541.95 875.73 L542 876.82 L542.05 877.91 L542.1 879 L542.15 880.07 L542.2 881.15 L542.25 882.21 L542.3 883.27 L542.35 884.32 L542.4 885.37 L542.45 886.41 L542.5 887.44 L542.55 888.47 L542.6 889.5 L542.65 890.51 L542.7 891.53 L542.75 892.53 L542.8 893.53 L542.85 894.53 L542.9 895.52 L542.95 896.5 L543 897.48 L543.05 898.45 L543.1 899.42 L543.15 900.38 L543.2 901.34 L543.25 902.29 L543.3 903.24 L543.35 904.18 L543.4 905.12 L543.45 906.05 L543.5 906.97 L543.55 907.89 L543.6 908.81 L543.65 909.72 L543.7 910.63 L543.75 911.53 L543.8 912.42 L543.85 913.31 L543.9 914.2 L543.95 915.08 L544 915.96 L544.05 916.83 L544.1 917.7 L544.15 918.56 L544.2 919.42 L544.25 920.27 L544.3 921.12 L544.35 921.97 L544.4 922.81 L544.45 923.64 L544.5 924.48 L544.55 925.3 L544.6 926.12 L544.65 926.94 L544.7 927.76 L544.75 928.57 L544.8 929.37 L544.85 930.17 L544.9 930.97 L544.95 931.76 L545 932.55 L545.25 936.44 L545.5 940.22 L545.75 943.91 L545.8 944.64 L546 947.51 L546.25 951.02 L546.5 954.43 L546.75 957.76 L547 961 L547.25 964.15 L547.5 967.23 L547.75 970.22 L548 973.15 L548.25 976.02 L548.5 978.83 L548.75 981.6 L549 984.34 L549.25 987.04 L549.5 989.7 L549.75 992.3 L550 994.83 L550.1 995.81 L550.25 997.26 L550.5 999.6 L550.75 1001.87 L551 1004.05 L551.25 1006.17 L551.3 1006.58 L551.5 1008.22 L551.75 1010.19 L552 1012.11 L552.25 1013.95 L552.5 1015.74 L552.75 1017.49 L553 1019.19 L553.25 1020.86 L553.5 1022.51 L553.7 1023.82 L553.75 1024.15 L554 1025.78 L554.25 1027.38 L554.5 1028.97 L554.75 1030.55 L555 1032.11 L555.25 1033.67 L555.5 1035.22 L555.75 1036.78 L556 1038.34 L556.25 1039.9 L556.5 1041.48 L556.75 1043.07 L557 1044.66 L557.25 1046.27 L557.5 1047.88 L557.75 1049.49 L558 1051.11 L558.25 1052.72 L558.5 1054.33 L558.75 1055.97 L559 1057.67 L559.25 1059.42 L559.5 1061.19 L559.75 1062.97 L560 1064.76 L561 1071.56 L562 1077.18 L562.3 1078.5 L563 1081.22 L564 1084.7 L565 1087.78 L566 1090.54 L567 1093.07 L568 1095.44 L569 1097.75 L570 1100.06 L570.1 1100.3 L571 1102.38 L572 1104.59 L573 1106.71 L574 1108.75 L575 1110.72 L576 1112.64 L577 1114.53 L577.2 1114.9 L578 1116.39 L579 1118.25 L580 1120.08 L581 1121.85 L582 1123.54 L583 1125.13 L584 1126.59 L584.3 1127 L585 1127.93 L586 1129.24 L587 1130.5 L588 1131.73 L589 1132.92 L590 1134.07 L591 1135.19 L592 1136.28 L593 1137.33 L594 1138.34 L595 1139.32 L596 1140.27 L597 1141.18 L598 1142.06 L599 1142.91 L600 1143.74 L601 1144.54 L602 1145.31 L602.8 1145.92 L603 1146.07 L604 1146.81 L605 1147.53 L606 1148.24 L607 1148.91 L608 1149.57 L609 1150.21 L610 1150.83 L611 1151.43 L612 1152.02 L613 1152.59 L614 1153.15 L615 1153.69 L616 1154.22 L617 1154.74 L618 1155.25 L619 1155.74 L620 1156.23 L621 1156.71 L622 1157.17 L623 1157.63 L624 1158.08 L625 1158.53 L626 1158.96 L627 1159.39 L628 1159.82 L629 1160.23 L630 1160.64 L631 1161.05 L632 1161.45 L633 1161.84 L634 1162.23 L635 1162.62 L636 1163 L637 1163.37 L638 1163.74 L639 1164.11 L640 1164.47 L641 1164.83 L642 1165.18 L643 1165.53 L644 1165.87 L645 1166.21 L646 1166.55 L647 1166.88 L648 1167.21 L649 1167.53 L650 1167.85 L651 1168.17 L652 1168.48 L653 1168.79 L654 1169.09 L655 1169.39 L656 1169.69 L657 1169.99 L658 1170.28 L659 1170.57 L660 1170.85 L661 1171.14 L662 1171.41 L663 1171.69 L664 1171.96 L665 1172.23 L665.8 1172.45 L666 1172.5 L667 1172.76 L668 1173.02 L669 1173.28 L670 1173.53 L671 1173.78 L672 1174.03 L673 1174.28 L674 1174.52 L675 1174.75 L676 1174.99 L677 1175.22 L678 1175.45 L679 1175.67 L680 1175.89 L681 1176.11 L682 1176.33 L683 1176.54 L684 1176.75 L685 1176.95 L686 1177.16 L687 1177.36 L688 1177.56 L689 1177.75 L690 1177.94 L690.1 1177.96 L691 1178.13 L692 1178.32 L693 1178.51 L694 1178.69 L695 1178.87 L696 1179.05 L697 1179.22 L698 1179.39 L699 1179.56 L700 1179.73 L701 1179.89 L702 1180.05 L703 1180.2 L704 1180.35 L705 1180.49 L706 1180.63 L707 1180.77 L708 1180.9 L709 1181.02 L710 1181.14 L711 1181.26 L712 1181.37 L712.4 1181.41 L713 1181.48 L714 1181.58 L715 1181.68 L716 1181.77 L717 1181.86 L718 1181.95 L719 1182.03 L720 1182.11 L721 1182.19 L722 1182.27 L723 1182.34 L724 1182.42 L725 1182.49 L726 1182.56 L727 1182.62 L728 1182.69 L729 1182.75 L730 1182.81 L731 1182.87 L732 1182.93 L733 1182.99 L734 1183.05 L735 1183.1 L736 1183.15 L737 1183.21 L738 1183.26 L739 1183.31 L740 1183.36 L741 1183.41 L742 1183.45 L742.8 1183.49 L743 1183.5 L744 1183.55 L745 1183.59 L746 1183.64 L747 1183.69 L748 1183.73 L749 1183.78 L750 1183.82 L751 1183.86 L752 1183.91 L753 1183.95 L754 1183.99 L755 1184.03 L756 1184.07 L757 1184.11 L758 1184.14 L759 1184.18 L760 1184.21 L761 1184.24 L762 1184.27 L763 1184.3 L764 1184.33 L765 1184.35 L766 1184.37 L767 1184.39 L768 1184.41 L769 1184.42 L770 1184.43 L771 1184.44 L772 1184.44 L773 1184.44 L773.1 1184.44 L774 1184.44 L775 1184.44 L776 1184.43 L777 1184.42 L778 1184.41 L779 1184.39 L780 1184.38 L781 1184.35 L782 1184.33 L783 1184.3 L784 1184.27 L785 1184.24 L786 1184.21 L787 1184.17 L788 1184.13 L789 1184.08 L790 1184.03 L791 1183.98 L792 1183.92 L793 1183.86 L794 1183.79 L795 1183.71 L796 1183.63 L797 1183.53 L798 1183.43 L799 1183.31 L800 1183.18 L801 1183.04 L802 1182.88 L803 1182.71 L804 1182.52 L805 1182.32 L806 1182.11 L807 1181.89 L808 1181.66 L809 1181.42 L810 1181.18 L811 1180.93 L812 1180.68 L813 1180.43 L814 1180.18 L815 1179.94 L816 1179.7 L817 1179.47 L818 1179.26 L819 1179.06 L820 1178.89 L821 1178.73 L822 1178.58 L823 1178.45 L824 1178.32 L825 1178.19 L826 1178.07 L827 1177.93 L828 1177.79 L829 1177.62 L830 1177.43 L831 1177.23 L832 1177.03 L833 1176.82 L834 1176.6 L835 1176.38 L836 1176.15 L837 1175.92 L838 1175.69 L839 1175.44 L840 1175.19 L841 1174.94 L842 1174.68 L843 1174.41 L844 1174.13 L845 1173.85 L846 1173.56 L847 1173.26 L848 1172.96 L849 1172.64 L850 1172.32 L850.6 1172.12 L851 1171.99 L852 1171.64 L853 1171.29 L854 1170.93 L855 1170.55 L856 1170.16 L857 1169.77 L858 1169.35 L859 1168.93 L860 1168.49 L861 1168.04 L862 1167.57 L863 1167.08 L864 1166.58 L865 1166.06 L866 1165.52 L867 1164.95 L868 1164.37 L869 1163.77 L870 1163.14 L871 1162.49 L872 1161.81 L873 1161.1 L874 1160.36 L875 1159.59 L876 1158.79 L877 1157.95 L878 1157.08 L879 1156.16 L880 1155.2 L881 1154.19 L882 1153.13 L882.5 1152.58 L883 1152.02 L884 1150.85 L885 1149.62 L886 1148.32 L887 1146.95 L888 1145.5 L889 1143.97 L890 1142.35 L891 1140.63 L892 1138.8 L893 1136.85 L893.6 1135.63 L894 1134.78 L895 1132.58 L896 1130.22 L897 1127.69 L898 1124.98 L898.8 1122.68 L899 1122.08 L900 1118.95 L900.25 1118.14 L900.5 1117.3 L900.75 1116.46 L901 1115.59 L901.25 1114.71 L901.5 1113.81 L901.75 1112.9 L902 1111.97 L902.25 1111.01 L902.5 1110.05 L902.75 1109.06 L903 1108.05 L903.25 1107.03 L903.5 1105.98 L903.75 1104.91 L904 1103.82 L904.25 1102.71 L904.5 1101.58 L904.75 1100.43 L905 1099.25 L905.25 1098.05 L905.5 1096.83 L905.75 1095.58 L906 1094.31 L906.25 1093.01 L906.5 1091.69 L906.75 1090.34 L907 1088.97 L907.25 1087.56 L907.5 1086.14 L907.75 1084.68 L908 1083.2 L908.25 1081.69 L908.5 1080.15 L908.75 1078.58 L909 1076.99 L909.25 1075.37 L909.5 1073.72 L909.75 1072.04 L910 1070.34 L910.25 1068.6 L910.5 1066.84 L910.75 1065.06 L911 1063.25 L911.25 1061.41 L911.5 1059.56 L911.75 1057.68 L912 1055.78 L912.25 1053.86 L912.5 1051.92 L912.75 1049.98 L913 1048.01 L913.1 1047.23 L913.25 1046.04 L913.5 1044.07 L913.75 1042.09 L914 1040.11 L914.25 1038.14 L914.5 1036.17 L914.75 1034.22 L915 1032.3 L915.1 1031.53 L915.25 1030.39 L915.5 1028.52 L915.75 1026.68 L916 1024.89 L916.1 1024.19 L916.25 1023.15 L916.5 1021.47 L916.75 1019.85 L917 1018.3 L917.2 1017.12 L917.25 1016.83 L917.5 1015.45 L917.75 1014.16 L918 1012.97 L918.25 1011.89 L918.5 1010.93 L918.6 1010.57 L918.75 1010.08 L919 1009.36 L919.25 1008.77 L919.5 1008.32 L919.75 1008 L920 1007.82 L920.25 1007.79 L920.5 1007.89 L920.75 1008.14 L921 1008.54 L921.25 1009.07 L921.4 1009.45 L921.5 1009.73 L921.75 1010.53 L922 1011.46 L922.25 1012.51 L922.5 1013.68 L922.75 1014.96 L922.8 1015.23 L923 1016.34 L923.25 1017.83 L923.5 1019.4 L923.75 1021.05 L924 1022.78 L924.25 1024.57 L924.5 1026.42 L924.75 1028.33 L925 1030.28 L925.1 1031.08 L925.25 1032.28 L925.5 1034.3 L925.75 1036.35 L926 1038.42 L926.25 1040.5 L926.5 1042.6 L926.6 1043.44 L926.75 1044.7 L927 1046.8 L927.25 1048.89 L927.5 1050.98 L927.75 1053.06 L928 1055.13 L928.25 1057.18 L928.5 1059.21 L928.75 1061.22 L929 1063.2 L929.25 1065.17 L929.5 1067.1 L929.75 1069.02 L930 1070.9 L930.25 1072.75 L930.5 1074.58 L930.75 1076.37 L931 1078.14 L931.25 1079.88 L931.5 1081.58 L931.75 1083.25 L932 1084.9 L932.25 1086.51 L932.5 1088.09 L932.75 1089.65 L933 1091.17 L933.25 1092.66 L933.5 1094.12 L933.75 1095.56 L934 1096.97 L934.25 1098.34 L934.5 1099.69 L934.75 1101.02 L934.9 1101.8 L935 1102.31 L935.25 1103.58 L935.5 1104.83 L935.75 1106.05 L936 1107.24 L936.25 1108.41 L936.5 1109.56 L936.75 1110.69 L937 1111.79 L937.25 1112.87 L937.5 1113.92 L937.75 1114.96 L938 1115.97 L938.25 1116.97 L938.5 1117.94 L938.75 1118.9 L939 1119.83 L939.25 1120.75 L939.5 1121.65 L939.75 1122.53 L940 1123.4 L941 1126.69 L941.6 1128.55 L942 1129.74 L943 1132.56 L944 1135.18 L944.6 1136.66 L945 1137.61 L946 1139.87 L947 1141.98 L948 1143.94 L949 1145.77 L950 1147.48 L951 1149.08 L951.2 1149.39 L952 1150.58 L953 1151.98 L954 1153.29 L955 1154.53 L956 1155.68 L957 1156.77 L958 1157.79 L959 1158.75 L960 1159.65 L961 1160.5 L962 1161.29 L963 1162.04 L964 1162.75 L965 1163.41 L966 1164.03 L967 1164.62 L968 1165.17 L969 1165.68 L970 1166.16 L971 1166.62 L972 1167.04 L973 1167.44 L974 1167.81 L975 1168.15 L976 1168.47 L977 1168.77 L978 1169.04 L979 1169.29 L980 1169.52 L981 1169.73 L982 1169.93 L983 1170.1 L984 1170.25 L985 1170.39 L986 1170.51 L987 1170.61 L988 1170.69 L989 1170.76 L989.4 1170.78 L990 1170.81 L991 1170.85 L992 1170.87 L993 1170.88 L994 1170.87 L995 1170.84 L996 1170.8 L997 1170.74 L998 1170.67 L999 1170.59 L1000 1170.49 L1001 1170.37 L1002 1170.24 L1003 1170.09 L1004 1169.93 L1005 1169.75 L1006 1169.55 L1007 1169.34 L1008 1169.11 L1009 1168.86 L1010 1168.59 L1011 1168.31 L1012 1168 L1013 1167.68 L1014 1167.33 L1015 1166.97 L1015.2 1166.89 L1016 1166.58 L1017 1166.17 L1018 1165.73 L1019 1165.27 L1020 1164.79 L1021 1164.27 L1022 1163.73 L1023 1163.16 L1024 1162.55 L1025 1161.91 L1026 1161.24 L1027 1160.52 L1028 1159.77 L1028.6 1159.3 L1029 1158.97 L1030 1158.13 L1031 1157.24 L1032 1156.3 L1033 1155.31 L1034 1154.25 L1035 1153.14 L1036 1151.96 L1036.1 1151.83 L1037 1150.7 L1038 1149.37 L1039 1147.96 L1040 1146.45 L1041 1144.86 L1042 1143.16 L1043 1141.35 L1044 1139.42 L1045 1137.36 L1046 1135.17 L1047 1132.84 L1047.7 1131.11 L1048 1130.34 L1049 1127.69 L1050 1124.86 L1050.25 1124.13 L1050.5 1123.38 L1050.75 1122.63 L1051 1121.86 L1051.25 1121.08 L1051.5 1120.28 L1051.75 1119.48 L1052 1118.67 L1052.25 1117.84 L1052.3 1117.67 L1052.5 1117 L1052.75 1116.15 L1053 1115.29 L1053.25 1114.41 L1053.5 1113.53 L1053.75 1112.63 L1054 1111.73 L1054.25 1110.81 L1054.5 1109.88 L1054.75 1108.94 L1055 1107.99 L1055.25 1107.03 L1055.5 1106.06 L1055.75 1105.08 L1056 1104.1 L1056.25 1103.11 L1056.5 1102.1 L1056.75 1101.1 L1057 1100.09 L1057.25 1099.07 L1057.5 1098.05 L1057.75 1097.02 L1058 1096 L1058.25 1094.97 L1058.5 1093.94 L1058.75 1092.92 L1059 1091.9 L1059.05 1091.7 L1059.25 1090.89 L1059.5 1089.88 L1059.75 1088.88 L1060 1087.89 L1060.25 1086.91 L1060.5 1085.94 L1060.75 1085 L1061 1084.07 L1061.25 1083.16 L1061.5 1082.27 L1061.75 1081.41 L1062 1080.57 L1062.25 1079.77 L1062.5 1079 L1062.6 1078.7 L1062.75 1078.26 L1063 1077.56 L1063.25 1076.9 L1063.5 1076.28 L1063.75 1075.7 L1064 1075.17 L1064.25 1074.69 L1064.3 1074.6 L1064.5 1074.26 L1064.75 1073.88 L1065 1073.55 L1065.25 1073.28 L1065.5 1073.07 L1065.75 1072.91 L1066 1072.81 L1066.25 1072.77 L1066.3 1072.77 L1066.5 1072.78 L1066.75 1072.86 L1067 1073 L1067.25 1073.19 L1067.5 1073.45 L1067.75 1073.76 L1068 1074.13 L1068.25 1074.55 L1068.3 1074.64 L1068.5 1075.03 L1068.75 1075.55 L1069 1076.13 L1069.25 1076.76 L1069.5 1077.43 L1069.75 1078.15 L1070 1078.91 L1070.25 1079.71 L1070.5 1080.55 L1070.75 1081.42 L1071 1082.32 L1071.25 1083.25 L1071.5 1084.21 L1071.75 1085.2 L1072 1086.2 L1072.25 1087.23 L1072.5 1088.27 L1072.75 1089.33 L1073 1090.41 L1073.25 1091.49 L1073.5 1092.58 L1073.7 1093.47 L1073.75 1093.69 L1074 1094.79 L1074.25 1095.9 L1074.5 1097.02 L1074.75 1098.13 L1075 1099.24 L1075.25 1100.35 L1075.5 1101.46 L1075.75 1102.57 L1076 1103.67 L1076.2 1104.54 L1076.25 1104.76 L1076.5 1105.84 L1076.75 1106.92 L1077 1107.99 L1077.25 1109.05 L1077.5 1110.1 L1077.75 1111.14 L1078 1112.17 L1078.25 1113.19 L1078.5 1114.2 L1078.75 1115.19 L1079 1116.17 L1079.25 1117.14 L1079.5 1118.1 L1079.75 1119.05 L1080 1119.98 L1080.25 1120.9 L1080.5 1121.8 L1080.75 1122.7 L1081 1123.58 L1081.25 1124.44 L1081.5 1125.3 L1081.75 1126.14 L1082 1126.97 L1082.25 1127.79 L1082.4 1128.27 L1082.5 1128.59 L1082.75 1129.38 L1083 1130.16 L1083.25 1130.92 L1083.5 1131.68 L1083.75 1132.42 L1084 1133.15 L1084.25 1133.87 L1084.5 1134.57 L1084.75 1135.27 L1085 1135.95 L1086 1138.58 L1087 1141.03 L1088 1143.33 L1088.2 1143.78 L1089 1145.49 L1090 1147.51 L1091 1149.4 L1092 1151.17 L1092.3 1151.69 L1093 1152.84 L1094 1154.41 L1095 1155.88 L1096 1157.27 L1097 1158.57 L1098 1159.8 L1099 1160.96 L1099.5 1161.52 L1100 1162.06 L1101 1163.09 L1102 1164.07 L1103 1165 L1104 1165.88 L1105 1166.71 L1106 1167.49 L1106.5 1167.86 L1107 1168.22 L1108 1168.9 L1109 1169.55 L1110 1170.17 L1111 1170.78 L1112 1171.37 L1113 1171.96 L1114 1172.53 L1115 1173.09 L1116 1173.64 L1117 1174.15 L1117.7 1174.49 L1118 1174.63 L1119 1175.08 L1120 1175.5 L1121 1175.9 L1122 1176.28 L1123 1176.64 L1124 1176.98 L1125 1177.31 L1126 1177.63 L1127 1177.93 L1128 1178.22 L1128.3 1178.3 L1129 1178.5 L1130 1178.77 L1131 1179.05 L1132 1179.32 L1133 1179.59 L1134 1179.86 L1135 1180.13 L1136 1180.4 L1137 1180.67 L1138 1180.93 L1139 1181.19 L1140 1181.45 L1141 1181.7 L1142 1181.96 L1143 1182.21 L1144 1182.46 L1145 1182.7 L1146 1182.94 L1147 1183.18 L1148 1183.42 L1149 1183.65 L1150 1183.89 L1151 1184.12 L1152 1184.34 L1153 1184.57 L1154 1184.79 L1155 1185 L1156 1185.21 L1157 1185.42 L1158 1185.63 L1159 1185.82 L1160 1186.02 L1161 1186.21 L1162 1186.39 L1163 1186.57 L1164 1186.75 L1165 1186.92 L1166 1187.09 L1167 1187.25 L1168 1187.4 L1169 1187.55 L1170 1187.7 L1171 1187.84 L1172 1187.97 L1173 1188.1 L1174 1188.23 L1175 1188.35 L1176 1188.46 L1177 1188.57 L1178 1188.68 L1179 1188.78 L1180 1188.88 L1181 1188.98 L1182 1189.07 L1183 1189.15 L1184 1189.24 L1185 1189.32 L1186 1189.4 L1187 1189.48 L1188 1189.55 L1189 1189.62 L1190 1189.69 L1191 1189.76 L1192 1189.82 L1193 1189.88 L1194 1189.94 L1195 1190 L1196 1190.05 L1197 1190.1 L1198 1190.15 L1199 1190.19 L1200 1190.24 L1201 1190.28 L1202 1190.31 L1203 1190.34 L1204 1190.37 L1205 1190.4 L1206 1190.42 L1207 1190.44 L1208 1190.46 L1209 1190.47 L1210 1190.49 L1211 1190.49 L1212 1190.5 L1213 1190.5 L1214 1190.5 L1215 1190.49 L1216 1190.48 L1217 1190.47 L1218 1190.46 L1219 1190.45 L1220 1190.43 L1221 1190.41 L1222 1190.39 L1223 1190.36 L1224 1190.34 L1225 1190.31 L1226 1190.28 L1227 1190.25 L1228 1190.21 L1229 1190.18 L1230 1190.14 L1231 1190.11 L1232 1190.07 L1233 1190.03 L1234 1189.98 L1235 1189.94 L1236 1189.9 L1237 1189.85 L1238 1189.8 L1239 1189.75 L1240 1189.7 L1241 1189.65 L1242 1189.59 L1243 1189.53 L1244 1189.47 L1245 1189.41 L1246 1189.35 L1247 1189.28 L1248 1189.21 L1249 1189.14 L1250 1189.06 L1251 1188.98 L1252 1188.9 L1253 1188.82 L1254 1188.74 L1255 1188.65 L1256 1188.56 L1257 1188.46 L1258 1188.37 L1259 1188.27 L1260 1188.17 L1261 1188.06 L1262 1187.96 L1263 1187.85 L1264 1187.74 L1265 1187.63 L1266 1187.52 L1267 1187.41 L1268 1187.28 L1269 1187.15 L1270 1187.01 L1271 1186.86 L1272 1186.69 L1273 1186.51 L1274 1186.32 L1274.1 1186.3 L1275 1186.11 L1276 1185.86 L1277 1185.58 L1278 1185.28 L1279 1184.95 L1280 1184.6 L1281 1184.23 L1282 1183.85 L1283 1183.45 L1284 1183.03 L1285 1182.61 L1286 1182.19 L1287 1181.76 L1288 1181.33 L1288.3 1181.2 L1289 1180.9 L1290 1180.45 L1291 1179.99 L1292 1179.52 L1293 1179.03 L1294 1178.53 L1295 1178.01 L1296 1177.48 L1297 1176.93 L1298 1176.37 L1299 1175.79 L1300 1175.2 L1301 1174.58 L1302 1173.96 L1302.4 1173.7 L1303 1173.31 L1304 1172.62 L1305 1171.9 L1306 1171.15 L1307 1170.35 L1308 1169.52 L1309 1168.65 L1309.5 1168.2 L1310 1167.74 L1311 1166.75 L1312 1165.69 L1313 1164.59 L1314 1163.44 L1315 1162.28 L1316 1161.1 L1316.6 1160.4 L1317 1159.93 L1318 1158.72 L1319 1157.46 L1320 1156.19 L1321 1154.92 L1322 1153.65 L1323 1152.42 L1323.6 1151.7 L1324 1151.21 L1325 1149.93 L1326 1148.67 L1327 1147.56 L1327.9 1146.8 L1328 1146.73 L1329 1146.05 L1330 1145.44 L1331 1145.02 L1331.8 1144.9 L1332 1144.91 L1333 1145.16 L1334 1145.68 L1335 1146.34 L1335.7 1146.8 L1336 1147 L1337 1147.8 L1338 1148.76 L1339 1149.83 L1340 1150.95 L1341 1152.07 L1341.3 1152.4 L1342 1153.18 L1343 1154.35 L1344 1155.56 L1345 1156.81 L1346 1158.06 L1347 1159.3 L1348 1160.52 L1348.4 1161 L1349 1161.71 L1350 1162.92 L1351 1164.13 L1352 1165.34 L1353 1166.51 L1354 1167.63 L1355 1168.7 L1355.5 1169.2 L1356 1169.69 L1357 1170.63 L1358 1171.55 L1359 1172.42 L1360 1173.26 L1361 1174.06 L1362 1174.83 L1362.5 1175.2 L1363 1175.57 L1364 1176.29 L1365 1177.01 L1366 1177.72 L1367 1178.4 L1368 1179.06 L1369 1179.69 L1370 1180.29 L1371 1180.84 L1372 1181.35 L1373 1181.81 L1373.2 1181.9 L1374 1182.23 L1375 1182.63 L1376 1183.01 L1377 1183.38 L1378 1183.73 L1379 1184.06 L1380 1184.38 L1381 1184.68 L1382 1184.97 L1383 1185.25 L1384 1185.51 L1385 1185.76 L1386 1186 L1387 1186.23 L1387.3 1186.3 L1388 1186.45 L1389 1186.67 L1390 1186.88 L1391 1187.09 L1392 1187.28 L1393 1187.47 L1394 1187.66 L1395 1187.83 L1396 1187.99 L1397 1188.13 L1398 1188.27 L1399 1188.39 L1400 1188.5 L1401 1188.6 L1402 1188.69 L1403 1188.79 L1404 1188.88 L1405 1188.98 L1406 1189.07 L1407 1189.16 L1408 1189.25 L1409 1189.34 L1410 1189.43 L1411 1189.51 L1412 1189.6 L1413 1189.68 L1414 1189.76 L1415 1189.84 L1416 1189.92 L1417 1189.99 L1418 1190.07 L1419 1190.14 L1420 1190.2 L1421 1190.27 L1422 1190.33 L1423 1190.39 L1424 1190.45 L1425 1190.51 L1426 1190.56 L1427 1190.61 L1428 1190.65 L1429 1190.7 L1430 1190.73 L1431 1190.77 L1432 1190.8 L1433 1190.83 L1434 1190.85 L1435 1190.87 L1436 1190.89 L1437 1190.9 L1438 1190.91 L1439 1190.91 L1440 1190.91 L1441 1190.91 L1442 1190.9 L1443 1190.88 L1444 1190.86 L1445 1190.84 L1446 1190.81 L1447 1190.77 L1448 1190.74 L1449 1190.69 L1450 1190.64 L1451 1190.59 L1452 1190.54 L1453 1190.48 L1454 1190.41 L1455 1190.34 L1456 1190.27 L1457 1190.2 L1458 1190.12 L1459 1190.03 L1460 1189.95 L1461 1189.86 L1462 1189.76 L1463 1189.66 L1464 1189.56 L1465 1189.45 L1466 1189.34 L1467 1189.22 L1468 1189.09 L1469 1188.96 L1470 1188.81 L1471 1188.66 L1472 1188.5 L1473 1188.33 L1474 1188.15 L1475 1187.96 L1476 1187.77 L1477 1187.57 L1478 1187.36 L1479 1187.14 L1480 1186.91 L1481 1186.67 L1482 1186.43 L1483 1186.18 L1484 1185.93 L1484.2 1185.88 L1485 1185.68 L1486 1185.42 L1487 1185.16 L1488 1184.9 L1489 1184.63 L1490 1184.35 L1491 1184.06 L1492 1183.76 L1493 1183.45 L1494 1183.14 L1495 1182.82 L1496 1182.48 L1497 1182.14 L1498 1181.78 L1499 1181.41 L1499.3 1181.3 L1500 1181.03 L1501 1180.61 L1502 1180.17 L1503 1179.71 L1504 1179.22 L1505 1178.72 L1506 1178.2 L1507 1177.68 L1508 1177.14 L1509 1176.6 L1510 1176.06 L1511 1175.53 L1512 1174.99 L1513 1174.47 L1514 1173.95 L1514.5 1173.7 L1515 1173.45 L1516 1172.91 L1517 1172.35 L1518 1171.78 L1519 1171.22 L1520 1170.66 L1521 1170.12 L1522 1169.62 L1523 1169.16 L1524 1168.76 L1525 1168.43 L1525.1 1168.4 L1526 1168.14 L1527 1167.85 L1528 1167.57 L1529 1167.3 L1530 1167.06 L1531 1166.84 L1532 1166.66 L1533 1166.52 L1534 1166.43 L1535 1166.4 L1536 1166.46 L1537 1166.63 L1538 1166.9 L1539 1167.25 L1540 1167.66 L1541 1168.11 L1542 1168.6 L1543 1169.1 L1544 1169.61 L1544.8 1170 L1545 1170.1 L1546 1170.65 L1547 1171.28 L1548 1171.97 L1549 1172.71 L1550 1173.49 L1551 1174.27 L1552 1175.05 L1553 1175.81 L1554 1176.53 L1555 1177.2 L1555.5 1177.5 L1556 1177.79 L1557 1178.38 L1558 1178.96 L1559 1179.53 L1560 1180.09 L1561 1180.64 L1562 1181.16 L1563 1181.66 L1564 1182.14 L1565 1182.59 L1566 1183.01 L1567 1183.39 L1567.6 1183.6 L1568 1183.73 L1569 1184.06 L1570 1184.39 L1571 1184.7 L1572 1184.99 L1573 1185.28 L1574 1185.56 L1575 1185.82 L1576 1186.07 L1577 1186.31 L1578 1186.54 L1579 1186.75 L1580 1186.94 L1581 1187.12 L1582 1187.28 L1582.8 1187.4 L1583 1187.43 L1584 1187.57 L1585 1187.71 L1586 1187.85 L1587 1187.99 L1588 1188.13 L1589 1188.25 L1590 1188.37 L1591 1188.48 L1592 1188.59 L1593 1188.68 L1594 1188.75 L1595 1188.82 L1596 1188.86 L1597 1188.89 L1598 1188.9 L1599 1188.9 L1600 1188.89 L1601 1188.89 L1602 1188.88 L1603 1188.86 L1604 1188.85 L1605 1188.83 L1606 1188.81 L1607 1188.79 L1608 1188.76 L1609 1188.73 L1610 1188.7 L1611 1188.67 L1612 1188.64 L1613 1188.6 L1613.1 1188.6 L1614 1188.56 L1615 1188.49 L1616 1188.4 L1617 1188.29 L1618 1188.17 L1619 1188.04 L1620 1187.9 L1621 1187.74 L1622 1187.54 L1623 1187.32 L1624 1187.07 L1625 1186.79 L1626 1186.49 L1627 1186.17 L1628 1185.84 L1629 1185.5 L1630 1185.15 L1631 1184.79 L1632 1184.43 L1633 1184.07 L1634 1183.72 L1635 1183.37 L1635.2 1183.3 L1636 1183 L1637 1182.59 L1638 1182.17 L1639 1181.79 L1640 1181.5 L1641 1181.26 L1642 1181.03 L1643 1180.8 L1644 1180.58 L1645 1180.37 L1646 1180.18 L1647 1180.01 L1648 1179.85 L1649 1179.72 L1650 1179.62 L1651 1179.55 L1652 1179.51 L1652.6 1179.5 L1653 1179.5 L1654 1179.56 L1655 1179.67 L1656 1179.83 L1657 1180.04 L1658 1180.28 L1659 1180.56 L1660 1180.87 L1661 1181.2 L1662 1181.55 L1663 1181.91 L1664 1182.28 L1665 1182.66 L1666 1183.03 L1667 1183.39 L1668 1183.74 L1669 1184.07 L1670 1184.37 L1670.1 1184.4 L1671 1184.66 L1672 1184.96 L1673 1185.27 L1674 1185.59 L1675 1185.91 L1676 1186.22 L1677 1186.54 L1678 1186.86 L1679 1187.17 L1680 1187.47 L1681 1187.77 L1682 1188.06 L1683 1188.33 L1684 1188.59 L1685 1188.83 L1685.3 1188.9 L1686 1189.06 L1687 1189.29 L1688 1189.51 L1689 1189.73 L1690 1189.95 L1691 1190.17 L1692 1190.38 L1693 1190.59 L1694 1190.8 L1695 1191 L1696 1191.19 L1697 1191.39 L1698 1191.58 L1699 1191.76 L1700 1191.94 L1701 1192.12 L1702 1192.3 L1703 1192.47 L1704 1192.64 L1705 1192.81 L1706 1192.98 L1707 1193.14 L1708 1193.3 L1709 1193.46 L1710 1193.61 L1711 1193.76 L1712 1193.9 L1713 1194.04 L1714 1194.17 L1715 1194.3 L1716 1194.43 L1717 1194.55 L1718 1194.67 L1719 1194.79 L1720 1194.9 L1721 1195.01 L1722 1195.12 L1723 1195.23 L1724 1195.33 L1725 1195.43 L1726 1195.53 L1727 1195.62 L1728 1195.72 L1729 1195.81 L1730 1195.9 L1731 1195.99 L1732 1196.08 L1733 1196.16 L1734 1196.25 L1735 1196.33 L1736 1196.41 L1737 1196.48 L1738 1196.56 L1739 1196.63 L1740 1196.7 L1741 1196.77 L1742 1196.84 L1743 1196.9 L1744 1196.96 L1745 1197.02 L1746 1197.07 L1747 1197.12 L1748 1197.17 L1749 1197.22 L1750 1197.26 L1751 1197.3 L1752 1197.34 L1753 1197.37 L1754 1197.4 L1755 1197.42 L1756 1197.44 L1757 1197.46 L1758 1197.48 L1759 1197.49 L1760 1197.5 L1761 1197.51 L1762 1197.51 L1763 1197.52 L1764 1197.51 L1765 1197.51 L1766 1197.51 L1767 1197.5 L1768 1197.49 L1769 1197.48 L1770 1197.46 L1771 1197.45 L1772 1197.43 L1773 1197.41 L1774 1197.39 L1775 1197.37 L1776 1197.35 L1777 1197.32 L1778 1197.3 L1779 1197.27 L1780 1197.24 L1781 1197.21 L1782 1197.18 L1783 1197.15 L1784 1197.12 L1785 1197.08 L1786 1197.05 L1787 1197.01 L1788 1196.97 L1789 1196.94 L1790 1196.9 L1791 1196.85 L1792 1196.81 L1793 1196.77 L1794 1196.72 L1795 1196.67 L1796 1196.62 L1797 1196.57 L1798 1196.51 L1799 1196.46 L1800 1196.39 L1801 1196.33 L1802 1196.26 L1803 1196.19 L1804 1196.12 L1805 1196.04 L1806 1195.96 L1807 1195.87 L1808 1195.78 L1809 1195.69 L1810 1195.59 L1811 1195.49 L1812 1195.38 L1813 1195.27 L1814 1195.15 L1815 1195.03 L1816 1194.91 L1817 1194.78 L1818 1194.65 L1819 1194.52 L1820 1194.38 L1821 1194.24 L1822 1194.1 L1823 1193.95 L1824 1193.8 L1825 1193.64 L1826 1193.49 L1827 1193.33 L1828 1193.17 L1829 1193.01 L1830 1192.85 L1831 1192.69 L1832 1192.52 L1833 1192.36 L1834 1192.2 L1835 1192.04 L1835.5 1191.96 L1836 1191.88 L1837 1191.7 L1838 1191.51 L1839 1191.3 L1840 1191.08 L1841 1190.84 L1842 1190.59 L1843 1190.33 L1844 1190.07 L1845 1189.81 L1846 1189.55 L1847 1189.28 L1848 1189.02 L1849 1188.77 L1850 1188.52 L1851 1188.28 L1852 1188.05 L1853 1187.83 L1854 1187.62 L1855 1187.44 L1855.2 1187.4 L1856 1187.26 L1857 1187.08 L1858 1186.9 L1859 1186.72 L1860 1186.54 L1861 1186.37 L1862 1186.2 L1863 1186.04 L1864 1185.88 L1865 1185.74 L1866 1185.61 L1867 1185.49 L1868 1185.38 L1869 1185.29 L1870 1185.22 L1870.4 1185.2 L1871 1185.17 L1872 1185.11 L1873 1185.06 L1874 1185.01 L1875 1184.97 L1876 1184.92 L1877 1184.88 L1878 1184.84 L1879 1184.81 L1880 1184.78 L1881 1184.75 L1882 1184.73 L1883 1184.72 L1884 1184.71 L1885 1184.7 L1885.3 1184.7 L1886 1184.71 L1887 1184.73 L1888 1184.78 L1889 1184.85 L1890 1184.94 L1891 1185.04 L1892 1185.16 L1893 1185.29 L1894 1185.43 L1895 1185.58 L1896 1185.73 L1897 1185.89 L1898 1186.06 L1899 1186.22 L1900 1186.39 L1900.7 1186.5 L1901 1186.55 L1902 1186.74 L1903 1186.95 L1904 1187.19 L1905 1187.44 L1906 1187.71 L1907 1188 L1908 1188.29 L1909 1188.58 L1910 1188.88 L1911 1189.17 L1912 1189.45 L1913 1189.73 L1914 1189.98 L1914.9 1190.2 L1915 1190.22 L1916 1190.45 L1917 1190.67 L1918 1190.89 L1919 1191.11 L1920 1191.32 L1921 1191.53 L1922 1191.73 L1923 1191.94 L1924 1192.14 L1925 1192.33 L1926 1192.53 L1927 1192.73 L1928 1192.92 L1929 1193.12 L1930 1193.31 L1931 1193.51 L1932 1193.7 L1933 1193.9 L1934 1194.1 L1935 1194.3 L1936 1194.5 L1937 1194.7 L1938 1194.9 L1939 1195.11 L1940 1195.31 L1941 1195.52 L1942 1195.72 L1943 1195.93 L1944 1196.13 L1945 1196.34 L1946 1196.54 L1947 1196.75 L1948 1196.95 L1949 1197.16 L1950 1197.37 L1951 1197.57 L1952 1197.78 L1953 1197.98 L1954 1198.19 L1955 1198.39 L1956 1198.6"/>
<path stroke="#465ba7" stroke-width="11" d="M219 1160.4 L220 1160.4 L221 1160.4 L222 1160.39 L223 1160.38 L224 1160.37 L225 1160.36 L226 1160.35 L227 1160.33 L228 1160.32 L229 1160.3 L230 1160.28 L231 1160.26 L232 1160.24 L233 1160.22 L234 1160.19 L235 1160.17 L236 1160.14 L237 1160.12 L238 1160.09 L239 1160.06 L240 1160.04 L241 1160.01 L242 1159.98 L243 1159.94 L244 1159.91 L245 1159.88 L246 1159.85 L247 1159.81 L248 1159.78 L249 1159.74 L250 1159.71 L251 1159.67 L252 1159.63 L253 1159.59 L254 1159.55 L255 1159.52 L256 1159.48 L257 1159.44 L258 1159.39 L259 1159.35 L260 1159.31 L260.7 1159.28 L261 1159.26 L262 1159.22 L263 1159.17 L264 1159.12 L265 1159.07 L266 1159.01 L267 1158.96 L268 1158.9 L269 1158.84 L270 1158.78 L271 1158.72 L272 1158.66 L273 1158.59 L274 1158.52 L275 1158.45 L276 1158.38 L277 1158.3 L278 1158.22 L279 1158.14 L280 1158.06 L281 1157.98 L282 1157.9 L283 1157.81 L284 1157.72 L285 1157.63 L286 1157.54 L287 1157.45 L288 1157.35 L289 1157.25 L290 1157.15 L291 1157.04 L292 1156.94 L293 1156.83 L294 1156.71 L295 1156.59 L296 1156.47 L297 1156.35 L298 1156.22 L299 1156.09 L300 1155.95 L301 1155.82 L302 1155.67 L303 1155.53 L304 1155.38 L305 1155.23 L306 1155.08 L307 1154.92 L308 1154.76 L309 1154.6 L310 1154.44 L311 1154.28 L312 1154.11 L313 1153.94 L314 1153.77 L315 1153.6 L316 1153.43 L317 1153.26 L318 1153.08 L319 1152.91 L320 1152.73 L321 1152.56 L321.4 1152.49 L322 1152.38 L323 1152.2 L324 1152.02 L325 1151.84 L326 1151.66 L327 1151.48 L328 1151.29 L329 1151.1 L330 1150.91 L331 1150.72 L332 1150.53 L333 1150.34 L334 1150.14 L335 1149.94 L336 1149.74 L337 1149.53 L338 1149.32 L339 1149.11 L340 1148.9 L341 1148.68 L342 1148.46 L343 1148.24 L344 1148.01 L345 1147.78 L346 1147.54 L347 1147.3 L348 1147.06 L349 1146.81 L350 1146.55 L351 1146.3 L351.7 1146.11 L352 1146.03 L353 1145.77 L354 1145.49 L355 1145.22 L356 1144.93 L357 1144.64 L358 1144.35 L359 1144.05 L360 1143.75 L361 1143.44 L362 1143.12 L363 1142.8 L364 1142.47 L365 1142.14 L366 1141.79 L367 1141.45 L368 1141.09 L369 1140.73 L370 1140.36 L371 1139.99 L372 1139.61 L373 1139.22 L374 1138.82 L375 1138.42 L376 1138 L377 1137.58 L378 1137.14 L379 1136.7 L380 1136.24 L381 1135.78 L382 1135.3 L382.1 1135.25 L383 1134.8 L384 1134.3 L385 1133.77 L386 1133.24 L387 1132.68 L388 1132.11 L389 1131.52 L390 1130.91 L391 1130.28 L392 1129.64 L393 1128.97 L394 1128.28 L395 1127.58 L396 1126.85 L397 1126.1 L397.3 1125.87 L398 1125.32 L399 1124.52 L400 1123.7 L401 1122.86 L402 1122 L403 1121.11 L404 1120.19 L405 1119.26 L406 1118.3 L407 1117.33 L408 1116.33 L409 1115.3 L410 1114.26 L411 1113.19 L411.5 1112.65 L412 1112.1 L413 1110.99 L414 1109.85 L415 1108.67 L416 1107.47 L417 1106.23 L418 1104.95 L419 1103.63 L420 1102.27 L421 1100.87 L422 1099.44 L423 1097.97 L424 1096.46 L425 1094.91 L426 1093.3 L427 1091.64 L428 1089.92 L429 1088.13 L430 1086.29 L431 1084.38 L432 1082.43 L433 1080.43 L433.8 1078.81 L434 1078.4 L435 1076.35 L436 1074.26 L437 1072.14 L438 1069.96 L439 1067.71 L440 1065.36 L441 1062.92 L442 1060.36 L443 1057.7 L444 1054.9 L445 1051.88 L446 1048.59 L447 1045.09 L448 1041.42 L449 1037.64 L450 1033.81 L451 1029.97 L452 1026.18 L453 1022.5 L454 1018.89 L455 1015.29 L456 1011.69 L457 1008.08 L458 1004.45 L459 1000.8 L460 997.11 L460.3 996 L461 993.45 L462 989.92 L463 986.34 L464 982.53 L465 978.31 L465.2 977.4 L466 972.89 L467 966.39 L468 961.41 L468.1 961.1 L469 958.55 L470 955.89 L471 953.47 L472 951.33 L473 949.52 L474 948.09 L475 947.09 L476 946.57 L476.5 946.5 L477 946.58 L478 947.15 L479 948.23 L480 949.75 L481 951.62 L482 953.8 L483 956.19 L484 958.74 L484.9 961.1 L485 961.37 L486 965.05 L487 969.8 L488 974.73 L488.6 977.4 L489 979.05 L490 983.12 L491 987.09 L492 990.92 L493 994.59 L493.4 996 L494 998.1 L495 1001.54 L496 1004.74 L497 1007.5 L498 1009.93 L499 1012.2 L500 1014.21 L501 1015.85 L501.5 1016.5 L502 1017.09 L503 1018.25 L504 1019.32 L505 1020.22 L506 1020.86 L507 1021.18 L507.3 1021.2 L508 1021 L509 1020.12 L510 1018.75 L511 1017.08 L512 1015.33 L512.5 1014.5 L513 1013.62 L514 1011.54 L515 1009.19 L516 1006.77 L517 1004.47 L518 1002.5 L519 1000.77 L520 999.08 L521 997.46 L522 995.96 L523 994.61 L524 993.44 L525 992.5 L526 991.68 L527 990.87 L528 990.1 L529 989.38 L530 988.73 L531 988.18 L532 987.75 L533 987.45 L534 987.31 L534.3 987.3 L535 987.49 L536 988.37 L537 989.86 L538 991.85 L539 994.23 L540 996.89 L541 999.71 L542 1002.58 L543 1005.39 L543.3 1006.2 L544 1008.29 L545 1011.83 L546 1015.65 L547 1019.34 L548 1022.5 L549 1024.96 L550 1027.12 L551 1029.47 L551.2 1030 L552 1032.37 L553 1035.74 L554 1039.41 L555 1043.23 L556 1047.04 L557 1050.68 L558 1053.99 L558.1 1054.3 L559 1057 L560 1059.91 L561 1062.72 L562 1065.45 L563 1068.1 L564 1070.67 L565 1073.18 L566 1075.63 L567 1078.03 L567.2 1078.5 L568 1080.38 L569 1082.68 L570 1084.94 L571 1087.15 L572 1089.31 L573 1091.42 L574 1093.48 L575 1095.49 L576 1097.43 L577 1099.31 L577.3 1099.86 L578 1101.11 L579 1102.86 L580 1104.55 L581 1106.19 L582 1107.79 L583 1109.34 L584 1110.86 L585 1112.35 L585.8 1113.51 L586 1113.8 L587 1115.23 L588 1116.63 L589 1117.99 L590 1119.31 L591 1120.59 L592 1121.84 L593 1123.06 L594 1124.25 L594.6 1124.96 L595 1125.42 L596 1126.56 L597 1127.66 L598 1128.72 L599 1129.75 L600 1130.75 L601 1131.71 L602 1132.63 L603 1133.53 L604 1134.4 L605 1135.23 L606 1136.05 L607 1136.83 L607.2 1136.98 L608 1137.59 L609 1138.33 L610 1139.04 L611 1139.74 L612 1140.41 L613 1141.07 L614 1141.72 L615 1142.35 L616 1142.96 L617 1143.57 L618 1144.17 L619 1144.76 L620 1145.34 L621 1145.92 L622 1146.49 L623 1147.06 L624 1147.63 L625 1148.19 L626 1148.76 L627 1149.32 L627.6 1149.66 L628 1149.89 L629 1150.46 L630 1151.02 L631 1151.59 L632 1152.15 L633 1152.72 L634 1153.28 L635 1153.85 L636 1154.41 L637 1154.97 L638 1155.53 L639 1156.08 L640 1156.63 L641 1157.17 L642 1157.71 L643 1158.24 L644 1158.77 L645 1159.29 L646 1159.8 L647 1160.31 L648 1160.81 L649 1161.3 L650 1161.78 L651 1162.26 L651.3 1162.4 L652 1162.72 L653 1163.18 L654 1163.63 L655 1164.08 L656 1164.52 L657 1164.95 L658 1165.37 L659 1165.79 L660 1166.2 L661 1166.6 L662 1167 L663 1167.39 L664 1167.78 L665 1168.16 L666 1168.53 L667 1168.9 L668 1169.26 L669 1169.61 L670 1169.96 L671 1170.3 L672 1170.64 L673 1170.96 L674 1171.29 L675 1171.61 L675.5 1171.76 L676 1171.92 L677 1172.23 L678 1172.53 L679 1172.83 L680 1173.12 L681 1173.4 L682 1173.69 L683 1173.96 L684 1174.24 L685 1174.5 L686 1174.76 L687 1175.02 L688 1175.27 L689 1175.52 L690 1175.77 L691 1176 L692 1176.24 L693 1176.47 L694 1176.69 L695 1176.91 L696 1177.12 L697 1177.33 L698 1177.54 L699 1177.74 L699.8 1177.9 L700 1177.94 L701 1178.13 L702 1178.32 L703 1178.5 L704 1178.68 L705 1178.86 L706 1179.03 L707 1179.2 L708 1179.37 L709 1179.53 L710 1179.69 L711 1179.84 L712 1179.99 L713 1180.14 L714 1180.28 L715 1180.42 L716 1180.56 L717 1180.69 L718 1180.82 L719 1180.94 L720 1181.07 L721 1181.18 L722 1181.3 L723 1181.41 L724 1181.51 L725 1181.62 L726 1181.72 L727 1181.82 L728 1181.91 L729 1182 L730 1182.09 L731 1182.18 L732 1182.26 L733 1182.34 L734 1182.42 L735 1182.5 L736 1182.57 L737 1182.65 L738 1182.72 L739 1182.79 L740 1182.86 L741 1182.93 L742 1182.99 L743 1183.06 L744 1183.12 L745 1183.18 L746 1183.24 L747 1183.3 L748 1183.36 L748.3 1183.37 L749 1183.41 L750 1183.47 L751 1183.52 L752 1183.58 L753 1183.63 L754 1183.68 L755 1183.73 L756 1183.78 L757 1183.83 L758 1183.88 L759 1183.92 L760 1183.97 L761 1184.01 L762 1184.06 L763 1184.1 L764 1184.14 L765 1184.18 L766 1184.22 L767 1184.26 L768 1184.3 L769 1184.34 L770 1184.37 L771 1184.41 L772 1184.44 L773 1184.48 L774 1184.51 L775 1184.54 L776 1184.57 L777 1184.6 L778 1184.63 L779 1184.66 L780 1184.69 L781 1184.72 L782 1184.74 L783 1184.77 L784 1184.8 L785 1184.83 L786 1184.86 L787 1184.89 L788 1184.92 L789 1184.95 L790 1184.98 L791 1185.01 L792 1185.05 L793 1185.08 L794 1185.12 L795 1185.16 L796 1185.2 L797 1185.24 L798 1185.29 L799 1185.33 L800 1185.38 L801 1185.43 L802 1185.48 L803 1185.54 L804 1185.59 L805 1185.64 L806 1185.69 L807 1185.74 L808 1185.79 L809 1185.84 L810 1185.88 L810.3 1185.9 L811 1185.93 L812 1185.97 L813 1186.01 L814 1186.05 L815 1186.08 L816 1186.11 L817 1186.14 L818 1186.17 L819 1186.2 L820 1186.22 L821 1186.25 L822 1186.27 L823 1186.29 L824 1186.31 L825 1186.33 L826 1186.35 L827 1186.36 L828 1186.38 L829 1186.39 L830 1186.4 L831 1186.41 L832 1186.42 L833 1186.43 L834 1186.44 L835 1186.45 L836 1186.45 L837 1186.46 L838 1186.46 L839 1186.46 L840 1186.46 L840.7 1186.46 L841 1186.45 L842 1186.45 L843 1186.44 L844 1186.44 L845 1186.43 L846 1186.41 L847 1186.4 L848 1186.38 L849 1186.37 L850 1186.35 L851 1186.33 L852 1186.31 L853 1186.28 L854 1186.26 L855 1186.23 L856 1186.2 L857 1186.18 L858 1186.15 L859 1186.11 L860 1186.08 L861 1186.05 L862 1186.02 L863 1185.98 L864 1185.95 L865 1185.91 L866 1185.87 L867 1185.83 L868 1185.8 L869 1185.76 L870 1185.72 L871 1185.67 L872 1185.63 L873 1185.59 L874 1185.54 L875 1185.5 L876 1185.45 L877 1185.4 L878 1185.35 L879 1185.3 L880 1185.25 L881 1185.19 L882 1185.14 L883 1185.08 L884 1185.02 L885 1184.96 L886 1184.9 L887 1184.84 L888 1184.78 L889 1184.72 L890 1184.65 L891 1184.59 L892 1184.52 L893 1184.46 L894 1184.39 L895 1184.33 L896 1184.26 L897 1184.19 L898 1184.13 L899 1184.06 L900 1183.99 L901 1183.92 L901.4 1183.89 L902 1183.85 L903 1183.78 L904 1183.72 L905 1183.65 L906 1183.58 L907 1183.51 L908 1183.43 L909 1183.36 L910 1183.29 L911 1183.22 L912 1183.15 L913 1183.07 L914 1183 L915 1182.92 L916 1182.85 L917 1182.77 L918 1182.7 L919 1182.62 L920 1182.54 L921 1182.46 L922 1182.38 L923 1182.3 L924 1182.22 L925 1182.14 L926 1182.06 L927 1181.97 L928 1181.89 L929 1181.8 L930 1181.72 L931 1181.63 L931.7 1181.56 L932 1181.54 L933 1181.45 L934 1181.35 L935 1181.26 L936 1181.17 L937 1181.07 L938 1180.97 L939 1180.88 L940 1180.78 L941 1180.68 L942 1180.58 L943 1180.47 L944 1180.37 L945 1180.27 L946 1180.17 L947 1180.07 L948 1179.96 L949 1179.86 L950 1179.76 L951 1179.66 L952 1179.56 L953 1179.46 L954 1179.37 L955 1179.27 L956 1179.17 L957 1179.08 L958 1178.99 L959 1178.9 L960 1178.8 L961 1178.72 L962 1178.63 L962.1 1178.62 L963 1178.54 L964 1178.45 L965 1178.37 L966 1178.28 L967 1178.2 L968 1178.12 L969 1178.04 L970 1177.96 L971 1177.89 L972 1177.81 L973 1177.75 L974 1177.68 L975 1177.62 L976 1177.56 L977 1177.5 L978 1177.45 L979 1177.41 L980 1177.37 L981 1177.33 L982 1177.3 L983 1177.28 L984 1177.26 L984.9 1177.24 L985 1177.24 L986 1177.23 L987 1177.23 L988 1177.23 L989 1177.23 L990 1177.24 L991 1177.26 L992 1177.27 L993 1177.29 L994 1177.32 L995 1177.34 L996 1177.37 L997 1177.4 L998 1177.44 L999 1177.47 L1000 1177.51 L1001 1177.55 L1002 1177.59 L1003 1177.63 L1004 1177.68 L1005 1177.72 L1006 1177.77 L1007 1177.82 L1007.6 1177.85 L1008 1177.88 L1009 1177.93 L1010 1177.99 L1011 1178.05 L1012 1178.11 L1013 1178.17 L1014 1178.24 L1015 1178.31 L1016 1178.38 L1017 1178.45 L1018 1178.52 L1019 1178.6 L1020 1178.68 L1021 1178.76 L1022 1178.84 L1023 1178.92 L1024 1179 L1025 1179.08 L1026 1179.16 L1027 1179.24 L1028 1179.32 L1029 1179.4 L1030 1179.48 L1031 1179.56 L1032 1179.63 L1033 1179.71 L1034 1179.79 L1035 1179.86 L1036 1179.93 L1037 1180 L1038 1180.07 L1039 1180.14 L1040 1180.21 L1041 1180.28 L1042 1180.35 L1043 1180.41 L1044 1180.48 L1045 1180.54 L1046 1180.61 L1047 1180.67 L1048 1180.73 L1049 1180.79 L1050 1180.85 L1051 1180.91 L1052 1180.97 L1053 1181.02 L1054 1181.07 L1055 1181.12 L1056 1181.17 L1057 1181.22 L1058 1181.26 L1059 1181.3 L1060 1181.34 L1061 1181.37 L1062 1181.41 L1063 1181.43 L1064 1181.46 L1065 1181.48 L1066 1181.5 L1067 1181.52 L1068 1181.54 L1068.3 1181.54 L1069 1181.55 L1070 1181.56 L1071 1181.57 L1072 1181.58 L1073 1181.58 L1074 1181.59 L1075 1181.59 L1076 1181.59 L1077 1181.6 L1078 1181.6 L1079 1181.6 L1080 1181.6 L1081 1181.6 L1082 1181.6 L1083 1181.61 L1084 1181.61 L1085 1181.61 L1086 1181.62 L1087 1181.62 L1088 1181.63 L1089 1181.63 L1090 1181.64 L1090.3 1181.65 L1091 1181.65 L1092 1181.66 L1093 1181.68 L1094 1181.69 L1095 1181.71 L1096 1181.73 L1097 1181.75 L1098 1181.77 L1099 1181.8 L1100 1181.82 L1101 1181.85 L1102 1181.88 L1103 1181.91 L1104 1181.94 L1105 1181.97 L1106 1182 L1107 1182.03 L1108 1182.06 L1109 1182.09 L1110 1182.12 L1111 1182.15 L1112 1182.18 L1113 1182.2 L1114 1182.23 L1115 1182.25 L1116 1182.27 L1117 1182.29 L1118 1182.31 L1119 1182.33 L1120 1182.34 L1120.7 1182.35 L1121 1182.36 L1122 1182.37 L1123 1182.38 L1124 1182.39 L1125 1182.4 L1126 1182.41 L1127 1182.41 L1128 1182.42 L1129 1182.42 L1130 1182.43 L1131 1182.43 L1132 1182.44 L1133 1182.44 L1134 1182.44 L1135 1182.45 L1136 1182.45 L1137 1182.45 L1138 1182.46 L1139 1182.46 L1140 1182.46 L1141 1182.47 L1142 1182.47 L1143 1182.48 L1144 1182.48 L1145 1182.49 L1146 1182.5 L1147 1182.5 L1148 1182.51 L1149 1182.52 L1150 1182.54 L1151 1182.55 L1152 1182.57 L1153 1182.59 L1154 1182.61 L1155 1182.63 L1156 1182.66 L1157 1182.68 L1158 1182.71 L1159 1182.75 L1160 1182.78 L1161 1182.82 L1162 1182.86 L1163 1182.9 L1164 1182.94 L1165 1182.99 L1166 1183.04 L1167 1183.09 L1168 1183.14 L1169 1183.19 L1170 1183.24 L1171 1183.3 L1172 1183.35 L1173 1183.41 L1174 1183.47 L1175 1183.53 L1176 1183.59 L1177 1183.65 L1178 1183.71 L1179 1183.77 L1180 1183.83 L1181 1183.89 L1181.4 1183.92 L1182 1183.96 L1183 1184.02 L1184 1184.09 L1185 1184.15 L1186 1184.22 L1187 1184.29 L1188 1184.36 L1189 1184.43 L1190 1184.5 L1191 1184.57 L1192 1184.65 L1193 1184.72 L1194 1184.8 L1195 1184.88 L1196 1184.95 L1197 1185.03 L1198 1185.11 L1199 1185.19 L1200 1185.27 L1201 1185.35 L1202 1185.42 L1203 1185.5 L1204 1185.58 L1205 1185.66 L1206 1185.74 L1207 1185.82 L1208 1185.9 L1209 1185.98 L1210 1186.06 L1211 1186.14 L1211.7 1186.19 L1212 1186.21 L1213 1186.29 L1214 1186.37 L1215 1186.45 L1216 1186.52 L1217 1186.6 L1218 1186.68 L1219 1186.75 L1220 1186.83 L1221 1186.91 L1222 1186.98 L1223 1187.06 L1224 1187.13 L1225 1187.21 L1226 1187.29 L1227 1187.36 L1228 1187.44 L1229 1187.51 L1230 1187.59 L1231 1187.67 L1232 1187.74 L1233 1187.82 L1234 1187.89 L1235 1187.97 L1236 1188.04 L1237 1188.12 L1238 1188.19 L1239 1188.27 L1240 1188.34 L1241 1188.42 L1242 1188.49 L1242.1 1188.5 L1243 1188.57 L1244 1188.64 L1245 1188.72 L1246 1188.79 L1247 1188.87 L1248 1188.94 L1249 1189.02 L1250 1189.09 L1251 1189.17 L1252 1189.24 L1253 1189.32 L1254 1189.39 L1255 1189.47 L1256 1189.54 L1257 1189.61 L1258 1189.69 L1259 1189.76 L1260 1189.83 L1261 1189.9 L1262 1189.98 L1263 1190.05 L1264 1190.12 L1265 1190.19 L1266 1190.26 L1267 1190.33 L1268 1190.39 L1269 1190.46 L1270 1190.53 L1271 1190.59 L1272 1190.66 L1272.4 1190.68 L1273 1190.72 L1274 1190.79 L1275 1190.85 L1276 1190.91 L1277 1190.98 L1278 1191.04 L1279 1191.1 L1280 1191.16 L1281 1191.22 L1282 1191.28 L1283 1191.34 L1284 1191.4 L1285 1191.46 L1286 1191.52 L1287 1191.57 L1288 1191.63 L1289 1191.69 L1290 1191.74 L1291 1191.8 L1292 1191.85 L1293 1191.9 L1294 1191.96 L1295 1192.01 L1296 1192.06 L1297 1192.11 L1298 1192.16 L1299 1192.21 L1300 1192.26 L1301 1192.31 L1302 1192.35 L1302.8 1192.39 L1303 1192.4 L1304 1192.45 L1305 1192.5 L1306 1192.54 L1307 1192.59 L1308 1192.64 L1309 1192.68 L1310 1192.73 L1311 1192.77 L1312 1192.81 L1313 1192.86 L1314 1192.9 L1315 1192.94 L1316 1192.98 L1317 1193.02 L1318 1193.06 L1319 1193.1 L1320 1193.14 L1321 1193.17 L1322 1193.21 L1323 1193.24 L1324 1193.27 L1325 1193.3 L1326 1193.32 L1327 1193.35 L1328 1193.37 L1329 1193.39 L1330 1193.41 L1331 1193.43 L1332 1193.45 L1333 1193.46 L1333.1 1193.46 L1334 1193.47 L1335 1193.49 L1336 1193.5 L1337 1193.51 L1338 1193.52 L1339 1193.52 L1340 1193.53 L1341 1193.54 L1342 1193.54 L1343 1193.55 L1344 1193.55 L1345 1193.56 L1346 1193.56 L1347 1193.57 L1348 1193.57 L1349 1193.57 L1350 1193.58 L1351 1193.58 L1352 1193.58 L1353 1193.58 L1354 1193.58 L1355 1193.58 L1356 1193.58 L1357 1193.58 L1358 1193.58 L1359 1193.58 L1360 1193.57 L1361 1193.57 L1362 1193.56 L1363 1193.56 L1364 1193.55 L1365 1193.55 L1366 1193.54 L1367 1193.53 L1368 1193.52 L1369 1193.52 L1370 1193.51 L1370.3 1193.5 L1371 1193.5 L1372 1193.49 L1373 1193.48 L1374 1193.47 L1375 1193.46 L1376 1193.45 L1377 1193.44 L1378 1193.44 L1379 1193.43 L1380 1193.42 L1381 1193.41 L1382 1193.4 L1383 1193.39 L1384 1193.38 L1385 1193.37 L1386 1193.36 L1387 1193.35 L1388 1193.34 L1389 1193.33 L1390 1193.32 L1391 1193.31 L1392 1193.3 L1393 1193.29 L1394 1193.27 L1395 1193.26 L1396 1193.24 L1397 1193.23 L1398 1193.21 L1399 1193.19 L1400 1193.17 L1400.7 1193.15 L1401 1193.14 L1402 1193.12 L1403 1193.09 L1404 1193.06 L1405 1193.03 L1406 1193 L1407 1192.96 L1408 1192.92 L1409 1192.88 L1410 1192.84 L1411 1192.8 L1412 1192.76 L1413 1192.71 L1414 1192.66 L1415 1192.61 L1416 1192.56 L1417 1192.51 L1418 1192.46 L1419 1192.41 L1420 1192.36 L1421 1192.31 L1422 1192.26 L1423 1192.21 L1424 1192.16 L1425 1192.1 L1426 1192.05 L1427 1192 L1428 1191.96 L1429 1191.91 L1430 1191.86 L1431 1191.81 L1432 1191.76 L1433 1191.72 L1434 1191.67 L1435 1191.62 L1436 1191.57 L1437 1191.53 L1438 1191.48 L1439 1191.44 L1440 1191.39 L1441 1191.35 L1442 1191.3 L1443 1191.26 L1444 1191.22 L1445 1191.18 L1446 1191.14 L1447 1191.1 L1448 1191.06 L1449 1191.02 L1450 1190.99 L1451 1190.96 L1452 1190.93 L1453 1190.9 L1454 1190.87 L1455 1190.85 L1456 1190.83 L1457 1190.81 L1458 1190.79 L1459 1190.77 L1460 1190.76 L1461 1190.75 L1461.4 1190.75 L1462 1190.74 L1463 1190.73 L1464 1190.73 L1465 1190.72 L1466 1190.72 L1467 1190.72 L1468 1190.72 L1469 1190.72 L1470 1190.72 L1471 1190.73 L1472 1190.74 L1473 1190.75 L1474 1190.76 L1475 1190.77 L1476 1190.79 L1476.6 1190.8 L1477 1190.81 L1478 1190.84 L1479 1190.87 L1480 1190.9 L1481 1190.94 L1482 1190.98 L1483 1191.02 L1484 1191.07 L1485 1191.12 L1486 1191.17 L1487 1191.23 L1488 1191.29 L1489 1191.35 L1490 1191.42 L1491 1191.49 L1491.7 1191.54 L1492 1191.56 L1493 1191.63 L1494 1191.7 L1495 1191.78 L1496 1191.86 L1497 1191.94 L1498 1192.02 L1499 1192.1 L1500 1192.18 L1501 1192.27 L1502 1192.36 L1503 1192.44 L1504 1192.53 L1505 1192.62 L1506 1192.72 L1507 1192.81 L1508 1192.9 L1509 1192.99 L1510 1193.09 L1511 1193.18 L1512 1193.27 L1513 1193.36 L1514 1193.46 L1515 1193.55 L1516 1193.64 L1517 1193.73 L1518 1193.82 L1519 1193.91 L1520 1194 L1521 1194.09 L1522 1194.18 L1522.1 1194.19 L1523 1194.27 L1524 1194.36 L1525 1194.44 L1526 1194.53 L1527 1194.62 L1528 1194.71 L1529 1194.79 L1530 1194.88 L1531 1194.96 L1532 1195.05 L1533 1195.13 L1534 1195.21 L1535 1195.3 L1536 1195.38 L1537 1195.46 L1538 1195.54 L1539 1195.61 L1540 1195.69 L1541 1195.76 L1542 1195.83 L1543 1195.9 L1544 1195.97 L1545 1196.04 L1546 1196.1 L1547 1196.16 L1548 1196.22 L1549 1196.27 L1550 1196.33 L1551 1196.38 L1552 1196.42 L1552.4 1196.44 L1553 1196.47 L1554 1196.52 L1555 1196.56 L1556 1196.6 L1557 1196.64 L1558 1196.68 L1559 1196.71 L1560 1196.75 L1561 1196.78 L1562 1196.81 L1563 1196.84 L1564 1196.87 L1565 1196.9 L1566 1196.93 L1567 1196.96 L1568 1196.98 L1569 1197.01 L1570 1197.03 L1571 1197.06 L1572 1197.08 L1573 1197.1 L1574 1197.13 L1575 1197.15 L1576 1197.17 L1577 1197.19 L1578 1197.21 L1579 1197.22 L1580 1197.24 L1581 1197.26 L1582 1197.28 L1582.8 1197.29 L1583 1197.29 L1584 1197.31 L1585 1197.32 L1586 1197.34 L1587 1197.35 L1588 1197.37 L1589 1197.38 L1590 1197.4 L1591 1197.41 L1592 1197.42 L1593 1197.44 L1594 1197.45 L1595 1197.46 L1596 1197.47 L1597 1197.48 L1598 1197.49 L1599 1197.5 L1600 1197.51 L1601 1197.52 L1602 1197.53 L1603 1197.54 L1604 1197.54 L1605 1197.55 L1606 1197.56 L1607 1197.56 L1608 1197.56 L1609 1197.57 L1610 1197.57 L1611 1197.57 L1612 1197.57 L1613 1197.57 L1613.1 1197.57 L1614 1197.56 L1615 1197.56 L1616 1197.55 L1617 1197.54 L1618 1197.54 L1619 1197.52 L1620 1197.51 L1621 1197.5 L1622 1197.48 L1623 1197.47 L1624 1197.45 L1625 1197.43 L1626 1197.41 L1627 1197.38 L1628 1197.36 L1629 1197.33 L1630 1197.3 L1631 1197.27 L1632 1197.24 L1633 1197.2 L1634 1197.16 L1635 1197.12 L1636 1197.08 L1637 1197.03 L1638 1196.98 L1639 1196.93 L1640 1196.87 L1641 1196.81 L1642 1196.75 L1643 1196.68 L1644 1196.62 L1645 1196.55 L1646 1196.48 L1647 1196.4 L1648 1196.33 L1649 1196.26 L1650 1196.19 L1650.3 1196.16 L1651 1196.11 L1652 1196.04 L1653 1195.97 L1654 1195.9 L1655 1195.84 L1656 1195.77 L1657 1195.71 L1658 1195.64 L1659 1195.58 L1660 1195.52 L1661 1195.46 L1662 1195.41 L1663 1195.35 L1664 1195.3 L1665 1195.24 L1666 1195.19 L1667 1195.14 L1668 1195.09 L1669 1195.04 L1670 1194.99 L1671 1194.94 L1672 1194.9 L1673 1194.85 L1674 1194.8 L1675 1194.76 L1676 1194.71 L1677 1194.67 L1678 1194.63 L1679 1194.59 L1680 1194.55 L1680.7 1194.52 L1681 1194.51 L1682 1194.47 L1683 1194.43 L1684 1194.39 L1685 1194.35 L1686 1194.32 L1687 1194.28 L1688 1194.24 L1689 1194.21 L1690 1194.18 L1691 1194.14 L1692 1194.11 L1693 1194.07 L1694 1194.04 L1695 1194.01 L1696 1193.98 L1697 1193.94 L1698 1193.91 L1699 1193.88 L1700 1193.85 L1701 1193.82 L1702 1193.78 L1703 1193.75 L1704 1193.72 L1705 1193.69 L1706 1193.65 L1707 1193.62 L1708 1193.59 L1709 1193.55 L1710 1193.51 L1711 1193.48 L1712 1193.44 L1713 1193.4 L1714 1193.37 L1715 1193.33 L1716 1193.29 L1717 1193.25 L1718 1193.21 L1719 1193.17 L1720 1193.13 L1721 1193.09 L1722 1193.05 L1723 1193.01 L1724 1192.96 L1725 1192.92 L1726 1192.89 L1727 1192.85 L1728 1192.81 L1729 1192.77 L1730 1192.74 L1731 1192.7 L1732 1192.67 L1733 1192.64 L1734 1192.61 L1735 1192.58 L1736 1192.55 L1737 1192.53 L1738 1192.51 L1739 1192.48 L1740 1192.46 L1741 1192.45 L1741.4 1192.44 L1742 1192.43 L1743 1192.41 L1744 1192.4 L1745 1192.39 L1746 1192.38 L1747 1192.37 L1748 1192.36 L1749 1192.35 L1750 1192.34 L1751 1192.34 L1752 1192.33 L1753 1192.33 L1754 1192.33 L1755 1192.33 L1756 1192.32 L1756.6 1192.32 L1757 1192.32 L1758 1192.33 L1759 1192.33 L1760 1192.33 L1761 1192.33 L1762 1192.34 L1763 1192.35 L1764 1192.35 L1765 1192.36 L1766 1192.37 L1767 1192.38 L1768 1192.4 L1769 1192.41 L1770 1192.43 L1771 1192.45 L1771.7 1192.47 L1772 1192.47 L1773 1192.5 L1774 1192.53 L1775 1192.56 L1776 1192.59 L1777 1192.63 L1778 1192.67 L1779 1192.71 L1780 1192.76 L1781 1192.81 L1782 1192.87 L1783 1192.92 L1784 1192.98 L1785 1193.05 L1786 1193.11 L1787 1193.18 L1788 1193.25 L1789 1193.32 L1790 1193.4 L1791 1193.48 L1792 1193.56 L1793 1193.64 L1794 1193.72 L1795 1193.81 L1796 1193.89 L1797 1193.98 L1798 1194.07 L1799 1194.16 L1800 1194.26 L1801 1194.36 L1802 1194.46 L1802.1 1194.47 L1803 1194.56 L1804 1194.66 L1805 1194.77 L1806 1194.88 L1807 1194.99 L1808 1195.11 L1809 1195.23 L1810 1195.35 L1811 1195.47 L1812 1195.6 L1813 1195.73 L1814 1195.86 L1815 1195.99 L1816 1196.12 L1817 1196.26 L1818 1196.39 L1819 1196.53 L1820 1196.66 L1821 1196.8 L1822 1196.93 L1823 1197.07 L1824 1197.2 L1825 1197.33 L1826 1197.46 L1827 1197.59 L1828 1197.71 L1829 1197.84 L1830 1197.96 L1831 1198.08 L1832 1198.2 L1832.4 1198.25 L1833 1198.32 L1834 1198.43 L1835 1198.54 L1836 1198.65 L1837 1198.76 L1838 1198.87 L1839 1198.98 L1840 1199.08 L1841 1199.19 L1842 1199.29 L1843 1199.39 L1844 1199.49 L1845 1199.59 L1846 1199.69 L1847 1199.78 L1848 1199.87 L1849 1199.97 L1850 1200.06 L1851 1200.15 L1852 1200.23 L1853 1200.32 L1854 1200.4 L1855 1200.48 L1856 1200.56 L1857 1200.64 L1858 1200.72 L1859 1200.79 L1860 1200.86 L1861 1200.94 L1862 1201 L1862.8 1201.06 L1863 1201.07 L1864 1201.14 L1865 1201.2 L1866 1201.26 L1867 1201.32 L1868 1201.38 L1869 1201.44 L1870 1201.5 L1871 1201.55 L1872 1201.61 L1873 1201.66 L1874 1201.71 L1875 1201.76 L1876 1201.81 L1877 1201.86 L1878 1201.91 L1879 1201.95 L1880 1202 L1881 1202.04 L1882 1202.08 L1883 1202.13 L1884 1202.17 L1885 1202.21 L1886 1202.24 L1887 1202.28 L1888 1202.32 L1889 1202.35 L1890 1202.38 L1891 1202.42 L1892 1202.45 L1893 1202.48 L1893.1 1202.48 L1894 1202.51 L1895 1202.54 L1896 1202.56 L1897 1202.59 L1898 1202.62 L1899 1202.64 L1900 1202.67 L1901 1202.69 L1902 1202.72 L1903 1202.74 L1904 1202.76 L1905 1202.78 L1906 1202.8 L1907 1202.82 L1908 1202.84 L1909 1202.86 L1910 1202.88 L1911 1202.89 L1912 1202.9 L1913 1202.92 L1914 1202.93 L1915 1202.94 L1916 1202.95 L1917 1202.95 L1918 1202.96 L1919 1202.97 L1920 1202.97 L1921 1202.97 L1922 1202.97 L1923 1202.97 L1924 1202.97 L1925 1202.97 L1926 1202.97 L1927 1202.97 L1928 1202.96 L1929 1202.96 L1930 1202.95 L1931 1202.95 L1932 1202.94 L1933 1202.93 L1934 1202.92 L1935 1202.91 L1936 1202.9 L1937 1202.89 L1938 1202.87 L1939 1202.86 L1940 1202.85 L1941 1202.83 L1942 1202.82 L1943 1202.81 L1944 1202.79 L1945 1202.77 L1946 1202.75 L1947 1202.74 L1948 1202.72 L1949 1202.7 L1950 1202.67 L1951 1202.65 L1952 1202.62 L1953 1202.59 L1954 1202.56 L1955 1202.53 L1956 1202.5"/>
<path stroke="#ee3338" stroke-width="11" stroke-dasharray="33 7 17 7" stroke-dashoffset="-3" d="M219 1160.4 L220 1160.4 L221 1160.4 L222 1160.39 L223 1160.38 L224 1160.37 L225 1160.36 L226 1160.35 L227 1160.33 L228 1160.32 L229 1160.3 L230 1160.28 L231 1160.26 L232 1160.24 L233 1160.22 L234 1160.19 L235 1160.17 L236 1160.14 L237 1160.12 L238 1160.09 L239 1160.06 L240 1160.04 L241 1160.01 L242 1159.98 L243 1159.94 L244 1159.91 L245 1159.88 L246 1159.85 L247 1159.81 L248 1159.78 L249 1159.74 L250 1159.71 L251 1159.67 L252 1159.63 L253 1159.59 L254 1159.55 L255 1159.52 L256 1159.48 L257 1159.44 L258 1159.39 L259 1159.35 L260 1159.31 L260.7 1159.28 L261 1159.26 L262 1159.22 L263 1159.17 L264 1159.12 L265 1159.07 L266 1159.01 L267 1158.96 L268 1158.9 L269 1158.84 L270 1158.78 L271 1158.72 L272 1158.66 L273 1158.59 L274 1158.52 L275 1158.45 L276 1158.38 L277 1158.3 L278 1158.22 L279 1158.14 L280 1158.06 L281 1157.98 L282 1157.9 L283 1157.81 L284 1157.72 L285 1157.63 L286 1157.54 L287 1157.45 L288 1157.35 L289 1157.25 L290 1157.15 L291 1157.04 L292 1156.94 L293 1156.82 L294 1156.71 L295 1156.59 L296 1156.47 L297 1156.35 L298 1156.22 L299 1156.09 L300 1155.95 L301 1155.81 L302 1155.67 L303 1155.52 L304 1155.38 L305 1155.22 L306 1155.07 L307 1154.91 L308 1154.76 L309 1154.59 L310 1154.43 L311 1154.27 L312 1154.1 L313 1153.93 L314 1153.77 L315 1153.6 L316 1153.43 L317 1153.25 L318 1153.08 L319 1152.91 L320 1152.74 L321 1152.56 L321.4 1152.49 L322 1152.39 L323 1152.21 L324 1152.03 L325 1151.85 L326 1151.67 L327 1151.49 L328 1151.31 L329 1151.13 L330 1150.95 L331 1150.76 L332 1150.57 L333 1150.38 L334 1150.19 L335 1149.99 L336 1149.8 L337 1149.6 L338 1149.4 L339 1149.19 L340 1148.99 L341 1148.78 L342 1148.57 L343 1148.35 L344 1148.13 L345 1147.91 L346 1147.68 L347 1147.45 L348 1147.22 L349 1146.98 L350 1146.74 L351 1146.5 L351.7 1146.32 L352 1146.25 L353 1145.99 L354 1145.74 L355 1145.47 L356 1145.21 L357 1144.94 L358 1144.66 L359 1144.38 L360 1144.09 L361 1143.8 L362 1143.51 L363 1143.21 L364 1142.91 L365 1142.6 L366 1142.28 L367 1141.96 L368 1141.64 L369 1141.31 L370 1140.97 L371 1140.63 L372 1140.28 L373 1139.93 L374 1139.58 L375 1139.21 L376 1138.84 L377 1138.47 L378 1138.09 L379 1137.7 L380 1137.3 L381 1136.9 L382 1136.48 L382.1 1136.44 L383 1136.06 L384 1135.63 L385 1135.19 L386 1134.73 L387 1134.27 L388 1133.79 L389 1133.3 L390 1132.79 L391 1132.27 L392 1131.73 L393 1131.18 L394 1130.61 L395 1130.01 L396 1129.4 L397 1128.77 L397.3 1128.58 L398 1128.12 L399 1127.45 L400 1126.75 L401 1126.04 L402 1125.3 L403 1124.55 L404 1123.77 L405 1122.98 L406 1122.17 L407 1121.35 L408 1120.51 L409 1119.66 L410 1118.8 L411 1117.92 L412 1117.03 L412.4 1116.68 L413 1116.14 L414 1115.23 L415 1114.31 L416 1113.37 L417 1112.42 L418 1111.46 L419 1110.47 L420 1109.47 L421 1108.44 L422 1107.4 L423 1106.34 L424 1105.26 L425 1104.16 L426 1103.03 L427 1101.87 L427.6 1101.17 L428 1100.69 L429 1099.47 L430 1098.2 L431 1096.89 L432 1095.53 L433 1094.12 L434 1092.65 L435 1091.13 L436 1089.56 L437 1087.94 L438 1086.26 L439 1084.54 L439.7 1083.3 L440 1082.76 L441 1080.93 L442 1079.05 L443 1077.1 L444 1075.1 L445 1073.04 L446 1070.92 L447 1068.73 L448 1066.48 L449 1064.15 L450 1061.75 L451 1059.28 L452 1056.73 L452.7 1054.9 L453 1054.1 L454 1051.34 L455 1048.45 L456 1045.42 L457 1042.27 L458 1039 L459 1035.61 L460 1032.1 L460.25 1031.21 L460.5 1030.31 L460.75 1029.4 L461 1028.49 L461.25 1027.57 L461.5 1026.65 L461.75 1025.71 L462 1024.78 L462.25 1023.83 L462.5 1022.88 L462.6 1022.5 L462.75 1021.92 L463 1020.95 L463.25 1019.97 L463.5 1018.98 L463.75 1017.97 L464 1016.94 L464.25 1015.9 L464.5 1014.85 L464.75 1013.79 L465 1012.71 L465.25 1011.61 L465.5 1010.51 L465.75 1009.38 L466 1008.25 L466.25 1007.1 L466.5 1005.93 L466.75 1004.75 L467 1003.55 L467.25 1002.34 L467.5 1001.11 L467.75 999.87 L468 998.61 L468.1 998.1 L468.25 997.33 L468.5 996 L468.75 994.63 L469 993.22 L469.25 991.79 L469.5 990.32 L469.75 988.83 L470 987.32 L470.25 985.8 L470.3 985.5 L470.5 984.27 L470.75 982.71 L471 981.13 L471.25 979.53 L471.5 977.91 L471.75 976.27 L472 974.61 L472.25 972.94 L472.5 971.26 L472.75 969.58 L473 967.88 L473.25 966.19 L473.5 964.49 L473.75 962.79 L474 961.1 L474.25 959.41 L474.5 957.71 L474.75 956 L475 954.29 L475.25 952.58 L475.5 950.85 L475.75 949.12 L476 947.39 L476.25 945.64 L476.5 943.89 L476.75 942.13 L477 940.36 L477.25 938.59 L477.5 936.8 L477.75 935.02 L478 933.25 L478.25 931.48 L478.5 929.69 L478.75 927.88 L479 926.04 L479.25 924.15 L479.5 922.21 L479.7 920.6 L479.75 920.19 L480 918.08 L480.25 915.89 L480.5 913.63 L480.75 911.32 L481 908.98 L481.25 906.63 L481.5 904.3 L481.75 901.94 L482 899.53 L482.25 897.09 L482.5 894.66 L482.75 892.26 L483 889.91 L483.2 888.1 L483.25 887.66 L483.5 885.49 L483.75 883.4 L484 881.36 L484.25 879.36 L484.5 877.37 L484.75 875.38 L485 873.36 L485.25 871.29 L485.5 869.16 L485.7 867.4 L485.75 866.95 L486 864.66 L486.25 862.32 L486.5 859.92 L486.75 857.48 L487 855 L487.25 852.5 L487.5 849.97 L487.75 847.44 L488 844.9 L488.25 842.37 L488.5 839.86 L488.75 837.36 L489 834.9 L489.25 832.38 L489.5 829.73 L489.75 827.01 L490 824.28 L490.25 821.59 L490.5 818.99 L490.75 816.53 L491 814.28 L491.25 812.29 L491.5 810.6 L491.75 809.09 L492 807.59 L492.25 806.12 L492.5 804.67 L492.75 803.25 L493 801.88 L493.25 800.57 L493.5 799.3 L493.75 798.11 L494 796.99 L494.25 795.95 L494.5 795 L494.75 794.14 L495 793.39 L495.25 792.75 L495.5 792.22 L495.75 791.83 L496 791.57 L496.1 791.5 L496.25 791.51 L496.5 791.58 L496.75 791.72 L497 791.92 L497.1 792.01 L497.25 792.17 L497.5 792.49 L497.75 792.87 L498 793.3 L498.1 793.48 L498.25 793.78 L498.5 794.32 L498.75 794.92 L499 795.56 L499.1 795.83 L499.25 796.25 L499.5 796.99 L499.75 797.78 L500 798.61 L500.1 798.96 L500.25 799.49 L500.5 800.41 L500.75 801.37 L501 802.37 L501.1 802.78 L501.25 803.4 L501.5 804.48 L501.75 805.59 L502 806.73 L502.1 807.2 L502.25 807.91 L502.5 809.11 L502.75 810.35 L502.8 810.6 L503 811.86 L503.1 812.65 L503.25 814.02 L503.5 816.65 L503.75 819.54 L504 822.49 L504.1 823.64 L504.25 825.28 L504.4 826.8 L504.5 827.75 L504.75 830.07 L505 832.32 L505.1 833.21 L505.25 834.53 L505.5 836.7 L505.75 838.86 L506 841.03 L506.1 841.9 L506.25 843.22 L506.5 845.45 L506.75 847.75 L507 850.12 L507.1 851.1 L507.25 852.59 L507.5 855.16 L507.75 857.79 L508 860.49 L508.1 861.58 L508.25 863.23 L508.5 865.99 L508.75 868.75 L509 871.51 L509.1 872.6 L509.25 874.26 L509.5 877.11 L509.75 879.99 L510 882.83 L510.1 883.94 L510.25 885.56 L510.5 888.1 L510.75 890.41 L511 892.52 L511.1 893.33 L511.25 894.52 L511.5 896.48 L511.75 898.47 L512 900.56 L512.1 901.44 L512.25 902.83 L512.4 904.3 L512.5 905.37 L512.75 908.4 L513 911.7 L513.1 913.03 L513.25 914.96 L513.5 917.89 L513.6 918.9 L513.75 920.28 L514 922.4 L514.1 923.2 L514.25 924.35 L514.5 926.16 L514.75 927.88 L515 929.56 L515.1 930.23 L515.25 931.24 L515.5 932.98 L515.75 934.82 L516 936.8 L516.1 937.64 L516.25 938.94 L516.5 941.22 L516.75 943.59 L517 946.02 L517.1 947.01 L517.25 948.49 L517.5 950.96 L517.75 953.41 L518 955.79 L518.1 956.73 L518.25 958.09 L518.5 960.27 L518.6 961.1 L518.75 962.32 L519 964.31 L519.1 965.1 L519.25 966.26 L519.5 968.17 L519.75 970.04 L520 971.87 L520.1 972.59 L520.25 973.65 L520.5 975.4 L520.75 977.11 L521 978.79 L521.1 979.45 L521.25 980.43 L521.4 981.4 L521.5 982.04 L521.75 983.59 L522 985.08 L522.1 985.67 L522.25 986.54 L522.5 987.97 L522.75 989.38 L523 990.78 L523.1 991.34 L523.25 992.18 L523.5 993.6 L523.75 995.03 L524 996.44 L524.1 997 L524.25 997.83 L524.3 998.1 L524.5 999.19 L524.75 1000.55 L525 1001.92 L525.1 1002.47 L525.25 1003.29 L525.5 1004.65 L525.75 1006.01 L526 1007.38 L526.1 1007.92 L526.25 1008.73 L526.5 1010.08 L526.75 1011.43 L527 1012.77 L527.1 1013.3 L527.25 1014.1 L527.5 1015.42 L527.75 1016.73 L528 1018.03 L528.1 1018.55 L528.25 1019.32 L528.5 1020.59 L528.75 1021.85 L529 1023.09 L529.1 1023.59 L529.25 1024.32 L529.5 1025.53 L529.75 1026.72 L530.1 1028.35 L530.6 1030.6 L531.1 1032.79 L532.1 1037.09 L533.1 1041.25 L534.1 1045.27 L535.1 1049.15 L536.1 1052.87 L537.1 1056.42 L538.1 1059.8 L539.1 1063 L540.1 1066.05 L541.1 1068.99 L542.1 1071.83 L543.1 1074.58 L544.1 1077.23 L545.1 1079.79 L546.1 1082.26 L547.1 1084.66 L548.1 1086.98 L549.1 1089.22 L550.1 1091.4 L551.1 1093.54 L552.1 1095.66 L553.1 1097.76 L554.1 1099.83 L555.1 1101.87 L556.1 1103.87 L557.1 1105.83 L558.1 1107.73 L559.1 1109.59 L560.1 1111.38 L561.1 1113.09 L562.1 1114.72 L563.1 1116.25 L564.1 1117.69 L565.1 1119.03 L566.1 1120.28 L566.8 1121.11 L567.1 1121.45 L568.1 1122.58 L569.1 1123.67 L570.1 1124.73 L571.1 1125.77 L572.1 1126.78 L573.1 1127.76 L574.1 1128.71 L575.1 1129.65 L576.1 1130.56 L577.1 1131.45 L578.1 1132.32 L579.1 1133.17 L580.1 1134.01 L581.1 1134.83 L582.1 1135.64 L583.1 1136.42 L584.1 1137.19 L585.1 1137.95 L586.1 1138.69 L587.1 1139.42 L588.1 1140.14 L589.1 1140.85 L590.1 1141.55 L591 1142.18 L591.1 1142.25 L592.1 1142.93 L593.1 1143.61 L594.1 1144.27 L595.1 1144.93 L596.1 1145.59 L597.1 1146.23 L598.1 1146.87 L599.1 1147.5 L600.1 1148.13 L601.1 1148.74 L602.1 1149.35 L603.1 1149.94 L604.1 1150.53 L605.1 1151.11 L606.1 1151.68 L607.1 1152.25 L608.1 1152.8 L609.1 1153.34 L610.1 1153.87 L611.1 1154.39 L612.1 1154.9 L613.1 1155.4 L614.1 1155.88 L615.1 1156.36 L616.1 1156.83 L617.1 1157.28 L618.1 1157.72 L619.1 1158.15 L620.1 1158.57 L621.1 1158.98 L621.4 1159.11 L622.1 1159.38 L623.1 1159.77 L624.1 1160.15 L625.1 1160.52 L626.1 1160.89 L627.1 1161.24 L628.1 1161.58 L629.1 1161.92 L630.1 1162.25 L631.1 1162.58 L632.1 1162.9 L633.1 1163.21 L634.1 1163.51 L635.1 1163.82 L636.1 1164.11 L637.1 1164.41 L638.1 1164.69 L639.1 1164.98 L640.1 1165.26 L641.1 1165.54 L642.1 1165.82 L643.1 1166.09 L644.1 1166.36 L645.1 1166.64 L646.1 1166.9 L647.1 1167.17 L648.1 1167.44 L649.1 1167.71 L650.1 1167.97 L651.1 1168.24 L651.7 1168.4 L652.1 1168.5 L653.1 1168.77 L654.1 1169.03 L655.1 1169.3 L656.1 1169.56 L657.1 1169.82 L658.1 1170.08 L659.1 1170.34 L660.1 1170.6 L661.1 1170.86 L662.1 1171.11 L663.1 1171.37 L664.1 1171.62 L665.1 1171.87 L666.1 1172.11 L667.1 1172.36 L668.1 1172.6 L669.1 1172.84 L670.1 1173.08 L671.1 1173.31 L672.1 1173.54 L673.1 1173.76 L674.1 1173.99 L675.1 1174.21 L676.1 1174.42 L677.1 1174.63 L678.1 1174.84 L679.1 1175.05 L680.1 1175.25 L681.1 1175.45 L682.1 1175.64 L683.1 1175.84 L684.1 1176.03 L685.1 1176.21 L686.1 1176.4 L687.1 1176.58 L688.1 1176.76 L689.1 1176.93 L690.1 1177.11 L691.1 1177.28 L692.1 1177.45 L693.1 1177.62 L694.1 1177.78 L695.1 1177.94 L696.1 1178.1 L697.1 1178.26 L698.1 1178.41 L699.1 1178.56 L700.1 1178.71 L701.1 1178.85 L702.1 1178.99 L703.1 1179.13 L704.1 1179.27 L705.1 1179.4 L706.1 1179.52 L707.1 1179.65 L708.1 1179.77 L709.1 1179.88 L710.1 1180 L711.1 1180.11 L712.1 1180.21 L712.4 1180.24 L713.1 1180.32 L714.1 1180.42 L715.1 1180.52 L716.1 1180.61 L717.1 1180.7 L718.1 1180.79 L719.1 1180.88 L720.1 1180.97 L721.1 1181.05 L722.1 1181.14 L723.1 1181.22 L724.1 1181.3 L725.1 1181.37 L726.1 1181.45 L727.1 1181.52 L728.1 1181.6 L729.1 1181.67 L730.1 1181.73 L731.1 1181.8 L732.1 1181.87 L733.1 1181.93 L734.1 1181.99 L735.1 1182.06 L736.1 1182.12 L737.1 1182.17 L738.1 1182.23 L739.1 1182.29 L740.1 1182.34 L741.1 1182.39 L742.1 1182.44 L742.8 1182.48 L743.1 1182.49 L744.1 1182.54 L745.1 1182.59 L746.1 1182.64 L747.1 1182.68 L748.1 1182.73 L749.1 1182.77 L750.1 1182.81 L751.1 1182.85 L752.1 1182.89 L753.1 1182.93 L754.1 1182.97 L755.1 1183.01 L756.1 1183.05 L757.1 1183.09 L758.1 1183.12 L759.1 1183.16 L760.1 1183.19 L761.1 1183.23 L762.1 1183.26 L763.1 1183.29 L764.1 1183.33 L765.1 1183.36 L766.1 1183.39 L767.1 1183.42 L768.1 1183.45 L769.1 1183.48 L770.1 1183.51 L771.1 1183.54 L772.1 1183.57 L773.1 1183.6 L774.1 1183.63 L775.1 1183.66 L776.1 1183.69 L777.1 1183.72 L778.1 1183.75 L779.1 1183.77 L780.1 1183.8 L781.1 1183.83 L782.1 1183.86 L783.1 1183.89 L784.1 1183.91 L785.1 1183.94 L786.1 1183.96 L787.1 1183.99 L788.1 1184.01 L789.1 1184.03 L790.1 1184.05 L791.1 1184.07 L792.1 1184.08 L793.1 1184.09 L794.1 1184.1 L795.1 1184.1 L796.1 1184.11 L797.1 1184.1 L798.1 1184.09 L799.1 1184.08 L800 1184.06 L800.1 1184.06 L801.1 1184.04 L802.1 1184.01 L803.1 1183.98 L804.1 1183.94 L805.1 1183.89 L806.1 1183.85 L807.1 1183.79 L808.1 1183.74 L809.1 1183.69 L810.1 1183.63 L810.3 1183.62 L811.1 1183.57 L812.1 1183.51 L813.1 1183.46 L814.1 1183.4 L815.1 1183.34 L816.1 1183.28 L817.1 1183.22 L818.1 1183.17 L819.1 1183.11 L820.1 1183.06 L821.1 1183 L822.1 1182.94 L823.1 1182.89 L824.1 1182.83 L825.1 1182.77 L826.1 1182.72 L827.1 1182.66 L828.1 1182.6 L829.1 1182.54 L830.1 1182.48 L831.1 1182.42 L832.1 1182.36 L833.1 1182.29 L834.1 1182.23 L835.1 1182.16 L836.1 1182.1 L837.1 1182.03 L838.1 1181.96 L839.1 1181.89 L840.1 1181.81 L840.7 1181.77 L841.1 1181.74 L842.1 1181.66 L843.1 1181.59 L844.1 1181.51 L845.1 1181.43 L846.1 1181.35 L847.1 1181.26 L848.1 1181.18 L849.1 1181.09 L850.1 1181 L851.1 1180.91 L852.1 1180.82 L853.1 1180.72 L854.1 1180.63 L855.1 1180.53 L856.1 1180.43 L857.1 1180.33 L858.1 1180.23 L859.1 1180.13 L860.1 1180.02 L861.1 1179.91 L862.1 1179.81 L863.1 1179.69 L864.1 1179.58 L865.1 1179.47 L866.1 1179.35 L867.1 1179.23 L868.1 1179.11 L869.1 1178.99 L870.1 1178.86 L871 1178.75 L871.1 1178.73 L872.1 1178.6 L873.1 1178.47 L874.1 1178.33 L875.1 1178.19 L876.1 1178.04 L877.1 1177.9 L878.1 1177.75 L879.1 1177.59 L880.1 1177.44 L881.1 1177.28 L882.1 1177.12 L883.1 1176.96 L884.1 1176.79 L885.1 1176.62 L886.1 1176.45 L887.1 1176.28 L888.1 1176.11 L889.1 1175.94 L890.1 1175.77 L891.1 1175.59 L892.1 1175.42 L893.1 1175.24 L894.1 1175.07 L895.1 1174.89 L896.1 1174.72 L897.1 1174.55 L898.1 1174.37 L899.1 1174.2 L900.1 1174.02 L901.1 1173.85 L901.4 1173.79 L902.1 1173.67 L903.1 1173.5 L904.1 1173.32 L905.1 1173.15 L906.1 1172.97 L907.1 1172.79 L908.1 1172.61 L909.1 1172.44 L910.1 1172.26 L911.1 1172.08 L912.1 1171.9 L913.1 1171.72 L914.1 1171.55 L915.1 1171.37 L916.1 1171.19 L917.1 1171.02 L918.1 1170.85 L919.1 1170.68 L920.1 1170.51 L921.1 1170.34 L922.1 1170.18 L923.1 1170.01 L924.1 1169.85 L925.1 1169.7 L926.1 1169.54 L927.1 1169.39 L928.1 1169.24 L929.1 1169.1 L930.1 1168.96 L931.1 1168.81 L931.7 1168.73 L932.1 1168.67 L933.1 1168.54 L934.1 1168.4 L935.1 1168.27 L936.1 1168.13 L937.1 1168 L938.1 1167.87 L939.1 1167.74 L940.1 1167.61 L941.1 1167.49 L942.1 1167.36 L943.1 1167.24 L944.1 1167.12 L945.1 1167 L946.1 1166.89 L947.1 1166.78 L948.1 1166.67 L949.1 1166.57 L950.1 1166.48 L951.1 1166.39 L952.1 1166.3 L953.1 1166.23 L954.1 1166.15 L955.1 1166.09 L956.1 1166.03 L957.1 1165.99 L958.1 1165.94 L959.1 1165.91 L960.1 1165.89 L961.1 1165.87 L962.1 1165.86 L963.1 1165.86 L964.1 1165.87 L965.1 1165.89 L966.1 1165.91 L967.1 1165.94 L968.1 1165.98 L969.1 1166.02 L970.1 1166.08 L971.1 1166.13 L972.1 1166.2 L973.1 1166.26 L974.1 1166.34 L975.1 1166.42 L976.1 1166.51 L977.1 1166.6 L977.3 1166.62 L978.1 1166.7 L979.1 1166.81 L980.1 1166.92 L981.1 1167.04 L982.1 1167.16 L983.1 1167.29 L984.1 1167.43 L985.1 1167.57 L986.1 1167.72 L987.1 1167.87 L988.1 1168.02 L989.1 1168.19 L990.1 1168.35 L991.1 1168.52 L992.1 1168.69 L992.4 1168.74 L993.1 1168.86 L994.1 1169.03 L995.1 1169.21 L996.1 1169.39 L997.1 1169.58 L998.1 1169.76 L999.1 1169.95 L1000.1 1170.14 L1001.1 1170.34 L1002.1 1170.53 L1003.1 1170.73 L1004.1 1170.93 L1005.1 1171.13 L1006.1 1171.33 L1007.1 1171.53 L1008.1 1171.74 L1009.1 1171.95 L1010.1 1172.15 L1011.1 1172.36 L1012.1 1172.57 L1013.1 1172.78 L1014.1 1172.99 L1015.1 1173.2 L1016.1 1173.41 L1017.1 1173.62 L1018.1 1173.83 L1019.1 1174.04 L1020.1 1174.25 L1021.1 1174.46 L1022.1 1174.67 L1022.8 1174.81 L1023.1 1174.88 L1024.1 1175.09 L1025.1 1175.3 L1026.1 1175.52 L1027.1 1175.73 L1028.1 1175.94 L1029.1 1176.16 L1030.1 1176.38 L1031.1 1176.59 L1032.1 1176.81 L1033.1 1177.03 L1034.1 1177.24 L1035.1 1177.46 L1036.1 1177.67 L1037.1 1177.89 L1038.1 1178.1 L1039.1 1178.31 L1040.1 1178.51 L1041.1 1178.72 L1042.1 1178.92 L1043.1 1179.11 L1044.1 1179.3 L1045.1 1179.49 L1046.1 1179.67 L1047.1 1179.85 L1048.1 1180.02 L1049.1 1180.19 L1050.1 1180.35 L1051.1 1180.5 L1052.1 1180.65 L1053.1 1180.79 L1054.1 1180.93 L1055.1 1181.07 L1056.1 1181.19 L1057.1 1181.32 L1058.1 1181.44 L1059.1 1181.55 L1060.1 1181.67 L1061.1 1181.78 L1062.1 1181.88 L1063.1 1181.99 L1064.1 1182.09 L1065.1 1182.19 L1066.1 1182.28 L1067.1 1182.38 L1068.1 1182.48 L1069.1 1182.57 L1070.1 1182.67 L1071.1 1182.76 L1072.1 1182.86 L1073.1 1182.95 L1074.1 1183.05 L1075.1 1183.14 L1076.1 1183.24 L1077.1 1183.34 L1078.1 1183.44 L1079.1 1183.54 L1080 1183.63 L1080.1 1183.64 L1081.1 1183.74 L1082.1 1183.84 L1083.1 1183.94 L1084.1 1184.04 L1085.1 1184.15 L1086.1 1184.25 L1087.1 1184.35 L1088.1 1184.45 L1089.1 1184.54 L1090.1 1184.64 L1090.3 1184.66 L1091.1 1184.74 L1092.1 1184.83 L1093.1 1184.92 L1094.1 1185.01 L1095.1 1185.1 L1096.1 1185.19 L1097.1 1185.27 L1098.1 1185.36 L1099.1 1185.44 L1100.1 1185.52 L1101.1 1185.6 L1102.1 1185.68 L1103.1 1185.76 L1104.1 1185.84 L1105.1 1185.91 L1106.1 1185.98 L1107.1 1186.06 L1108.1 1186.13 L1109.1 1186.2 L1110.1 1186.26 L1111.1 1186.33 L1112.1 1186.39 L1113.1 1186.45 L1114.1 1186.52 L1115.1 1186.57 L1116.1 1186.63 L1117.1 1186.68 L1118.1 1186.74 L1119.1 1186.79 L1120.1 1186.84 L1120.7 1186.87 L1121.1 1186.88 L1122.1 1186.93 L1123.1 1186.97 L1124.1 1187.02 L1125.1 1187.06 L1126.1 1187.1 L1127.1 1187.14 L1128.1 1187.17 L1129.1 1187.21 L1130.1 1187.24 L1131.1 1187.28 L1132.1 1187.31 L1133.1 1187.34 L1134.1 1187.38 L1135.1 1187.41 L1136.1 1187.44 L1137.1 1187.47 L1138.1 1187.5 L1139.1 1187.53 L1140.1 1187.56 L1141.1 1187.59 L1142.1 1187.62 L1143.1 1187.65 L1144.1 1187.68 L1145.1 1187.71 L1146.1 1187.75 L1147.1 1187.78 L1148.1 1187.81 L1149.1 1187.85 L1150.1 1187.88 L1151 1187.91 L1151.1 1187.91 L1152.1 1187.95 L1153.1 1187.98 L1154.1 1188.02 L1155.1 1188.06 L1156.1 1188.09 L1157.1 1188.13 L1158.1 1188.17 L1159.1 1188.21 L1160.1 1188.24 L1161.1 1188.28 L1162.1 1188.32 L1163.1 1188.36 L1164.1 1188.4 L1165.1 1188.44 L1166.1 1188.48 L1167.1 1188.52 L1168.1 1188.56 L1169.1 1188.6 L1170.1 1188.64 L1171.1 1188.68 L1172.1 1188.72 L1173.1 1188.76 L1174.1 1188.8 L1175.1 1188.84 L1176.1 1188.88 L1177.1 1188.92 L1178.1 1188.97 L1179.1 1189.01 L1180.1 1189.05 L1181.1 1189.09 L1181.4 1189.1 L1182.1 1189.13 L1183.1 1189.17 L1184.1 1189.22 L1185.1 1189.26 L1186.1 1189.3 L1187.1 1189.35 L1188.1 1189.39 L1189.1 1189.43 L1190.1 1189.47 L1191.1 1189.52 L1192.1 1189.56 L1193.1 1189.61 L1194.1 1189.65 L1195.1 1189.69 L1196.1 1189.74 L1197.1 1189.78 L1198.1 1189.82 L1199.1 1189.87 L1200.1 1189.91 L1201.1 1189.95 L1202.1 1190 L1203.1 1190.04 L1204.1 1190.08 L1205.1 1190.12 L1206.1 1190.16 L1207.1 1190.21 L1208.1 1190.25 L1209.1 1190.29 L1210.1 1190.33 L1211.1 1190.37 L1211.7 1190.39 L1212.1 1190.41 L1213.1 1190.45 L1214.1 1190.49 L1215.1 1190.52 L1216.1 1190.56 L1217.1 1190.6 L1218.1 1190.64 L1219.1 1190.67 L1220.1 1190.71 L1221.1 1190.75 L1222.1 1190.78 L1223.1 1190.82 L1224.1 1190.85 L1225.1 1190.89 L1226.1 1190.93 L1227.1 1190.96 L1228.1 1191 L1229.1 1191.03 L1230.1 1191.07 L1231.1 1191.1 L1232.1 1191.14 L1233.1 1191.18 L1234.1 1191.21 L1235.1 1191.25 L1236.1 1191.28 L1237.1 1191.32 L1238.1 1191.36 L1239.1 1191.39 L1240.1 1191.43 L1241.1 1191.47 L1242.1 1191.51 L1243.1 1191.55 L1244.1 1191.59 L1245.1 1191.62 L1246.1 1191.66 L1247.1 1191.7 L1248.1 1191.74 L1249.1 1191.78 L1250.1 1191.83 L1251.1 1191.87 L1252.1 1191.91 L1253.1 1191.95 L1254.1 1191.99 L1255.1 1192.03 L1256.1 1192.07 L1257.1 1192.11 L1258.1 1192.15 L1259.1 1192.2 L1260.1 1192.24 L1261.1 1192.28 L1262.1 1192.31 L1263.1 1192.35 L1264.1 1192.39 L1265.1 1192.43 L1266.1 1192.47 L1267.1 1192.5 L1268.1 1192.54 L1269.1 1192.58 L1270.1 1192.61 L1271.1 1192.65 L1272.1 1192.68 L1272.4 1192.69 L1273.1 1192.71 L1274.1 1192.75 L1275.1 1192.78 L1276.1 1192.81 L1277.1 1192.84 L1278.1 1192.87 L1279.1 1192.9 L1280.1 1192.93 L1281.1 1192.96 L1282.1 1192.99 L1283.1 1193.02 L1284.1 1193.05 L1285.1 1193.08 L1286.1 1193.1 L1287.1 1193.13 L1288.1 1193.16 L1289.1 1193.18 L1290.1 1193.21 L1291.1 1193.24 L1292.1 1193.26 L1293.1 1193.28 L1294.1 1193.31 L1295.1 1193.33 L1296.1 1193.35 L1297.1 1193.38 L1298.1 1193.4 L1299.1 1193.42 L1300.1 1193.44 L1301.1 1193.46 L1302.1 1193.48 L1302.8 1193.49 L1303.1 1193.49 L1304.1 1193.51 L1305.1 1193.53 L1306.1 1193.55 L1307.1 1193.56 L1308.1 1193.58 L1309.1 1193.59 L1310.1 1193.61 L1311.1 1193.62 L1312.1 1193.64 L1313.1 1193.65 L1314.1 1193.66 L1315.1 1193.68 L1316.1 1193.69 L1317.1 1193.7 L1318.1 1193.71 L1319.1 1193.73 L1320.1 1193.74 L1321.1 1193.75 L1322.1 1193.76 L1323.1 1193.77 L1324.1 1193.79 L1325.1 1193.8 L1326.1 1193.81 L1327.1 1193.82 L1328.1 1193.84 L1329.1 1193.85 L1330.1 1193.86 L1331.1 1193.87 L1332.1 1193.89 L1333.1 1193.9 L1334.1 1193.91 L1335.1 1193.92 L1336.1 1193.94 L1337.1 1193.95 L1338.1 1193.96 L1339.1 1193.97 L1340.1 1193.99 L1341.1 1194 L1342.1 1194.01 L1343.1 1194.03 L1344.1 1194.04 L1345.1 1194.05 L1346.1 1194.07 L1347.1 1194.08 L1348.1 1194.09 L1349.1 1194.11 L1350.1 1194.13 L1351.1 1194.14 L1352.1 1194.16 L1353.1 1194.18 L1354.1 1194.2 L1355.1 1194.22 L1356.1 1194.25 L1357.1 1194.28 L1358.1 1194.3 L1359.1 1194.33 L1360 1194.36 L1360.1 1194.37 L1361.1 1194.4 L1362.1 1194.44 L1363.1 1194.47 L1364.1 1194.51 L1365.1 1194.55 L1366.1 1194.59 L1367.1 1194.62 L1368.1 1194.66 L1369.1 1194.69 L1370.1 1194.73 L1370.3 1194.73 L1371.1 1194.76 L1372.1 1194.78 L1373.1 1194.81 L1374.1 1194.83 L1375.1 1194.86 L1376.1 1194.88 L1377.1 1194.9 L1378.1 1194.91 L1379.1 1194.93 L1380.1 1194.94 L1381.1 1194.96 L1382.1 1194.97 L1383.1 1194.98 L1384.1 1194.99 L1385.1 1195 L1386.1 1195.01 L1387.1 1195.02 L1388.1 1195.03 L1389.1 1195.04 L1390.1 1195.05 L1391.1 1195.06 L1392.1 1195.06 L1393.1 1195.07 L1394.1 1195.07 L1395.1 1195.08 L1396.1 1195.08 L1397.1 1195.08 L1398.1 1195.09 L1399.1 1195.09 L1400.1 1195.09 L1400.7 1195.09 L1401.1 1195.09 L1402.1 1195.1 L1403.1 1195.1 L1404.1 1195.1 L1405.1 1195.1 L1406.1 1195.1 L1407.1 1195.1 L1408.1 1195.1 L1409.1 1195.1 L1410.1 1195.1 L1411.1 1195.1 L1412.1 1195.1 L1413.1 1195.1 L1414.1 1195.1 L1415.1 1195.1 L1416.1 1195.1 L1417.1 1195.1 L1418.1 1195.1 L1419.1 1195.1 L1420.1 1195.1 L1421.1 1195.1 L1422.1 1195.1 L1423.1 1195.1 L1424.1 1195.1 L1425.1 1195.1 L1426.1 1195.09 L1427.1 1195.09 L1428.1 1195.09 L1429.1 1195.08 L1430.1 1195.08 L1431 1195.07 L1431.1 1195.07 L1432.1 1195.06 L1433.1 1195.05 L1434.1 1195.04 L1435.1 1195.02 L1436.1 1195 L1437.1 1194.98 L1438.1 1194.96 L1439.1 1194.94 L1440.1 1194.91 L1441.1 1194.88 L1442.1 1194.85 L1443.1 1194.81 L1444.1 1194.78 L1445.1 1194.74 L1446.1 1194.7 L1447.1 1194.66 L1448.1 1194.61 L1449.1 1194.56 L1450.1 1194.52 L1451.1 1194.47 L1452.1 1194.41 L1453.1 1194.36 L1454.1 1194.3 L1455.1 1194.25 L1456.1 1194.19 L1457.1 1194.13 L1458.1 1194.06 L1459.1 1193.99 L1460.1 1193.93 L1461.1 1193.85 L1461.4 1193.83 L1462.1 1193.78 L1463.1 1193.7 L1464.1 1193.61 L1465.1 1193.53 L1466.1 1193.44 L1467.1 1193.34 L1468.1 1193.24 L1469.1 1193.14 L1470.1 1193.03 L1471.1 1192.92 L1472.1 1192.81 L1473.1 1192.69 L1474.1 1192.57 L1475.1 1192.45 L1476.1 1192.32 L1476.6 1192.26 L1477.1 1192.19 L1478.1 1192.06 L1479.1 1191.93 L1480.1 1191.79 L1481.1 1191.65 L1482.1 1191.5 L1483.1 1191.36 L1484.1 1191.21 L1485.1 1191.05 L1486.1 1190.9 L1487.1 1190.74 L1488.1 1190.57 L1489.1 1190.4 L1490.1 1190.23 L1491.1 1190.05 L1491.7 1189.94 L1492.1 1189.87 L1493.1 1189.68 L1494.1 1189.47 L1495.1 1189.25 L1496.1 1189.02 L1497.1 1188.78 L1498.1 1188.53 L1499.1 1188.27 L1500.1 1188 L1501.1 1187.73 L1502.1 1187.46 L1503.1 1187.19 L1504.1 1186.93 L1505.1 1186.66 L1506.1 1186.4 L1506.9 1186.2 L1507.1 1186.15 L1508.1 1185.89 L1509.1 1185.62 L1510.1 1185.34 L1511.1 1185.05 L1512.1 1184.76 L1513.1 1184.47 L1514.1 1184.19 L1515.1 1183.91 L1516.1 1183.64 L1517.1 1183.38 L1518.1 1183.14 L1519.1 1182.92 L1520.1 1182.72 L1521.1 1182.55 L1522.1 1182.4 L1523.1 1182.27 L1524.1 1182.14 L1525.1 1182.01 L1526.1 1181.88 L1527.1 1181.77 L1528.1 1181.66 L1529.1 1181.56 L1530.1 1181.47 L1531.1 1181.4 L1532.1 1181.35 L1533.1 1181.31 L1534.1 1181.3 L1534.2 1181.3 L1535.1 1181.32 L1536.1 1181.39 L1537.1 1181.5 L1538.1 1181.66 L1539.1 1181.85 L1540.1 1182.07 L1541.1 1182.32 L1542.1 1182.6 L1543.1 1182.9 L1544.1 1183.21 L1545.1 1183.54 L1546.1 1183.87 L1547.1 1184.21 L1548.1 1184.54 L1549.1 1184.88 L1550.1 1185.2 L1551.1 1185.52 L1552.1 1185.81 L1552.4 1185.9 L1553.1 1186.1 L1554.1 1186.41 L1555.1 1186.72 L1556.1 1187.05 L1557.1 1187.39 L1558.1 1187.74 L1559.1 1188.08 L1560.1 1188.43 L1561.1 1188.77 L1562.1 1189.1 L1563.1 1189.42 L1564.1 1189.72 L1565.1 1190.01 L1566.1 1190.28 L1567.1 1190.52 L1567.6 1190.64 L1568.1 1190.75 L1569.1 1190.97 L1570.1 1191.19 L1571.1 1191.4 L1572.1 1191.61 L1573.1 1191.81 L1574.1 1192 L1575.1 1192.18 L1576.1 1192.36 L1577.1 1192.53 L1578.1 1192.69 L1579.1 1192.85 L1580.1 1193 L1581.1 1193.15 L1582.1 1193.29 L1582.8 1193.38 L1583.1 1193.42 L1584.1 1193.55 L1585.1 1193.67 L1586.1 1193.79 L1587.1 1193.9 L1588.1 1194.01 L1589.1 1194.11 L1590.1 1194.21 L1591.1 1194.3 L1592.1 1194.4 L1593.1 1194.49 L1594.1 1194.58 L1595.1 1194.66 L1596.1 1194.74 L1597.1 1194.82 L1598.1 1194.9 L1599.1 1194.97 L1600.1 1195.04 L1601.1 1195.11 L1602.1 1195.18 L1603.1 1195.25 L1604.1 1195.31 L1605.1 1195.37 L1606.1 1195.43 L1607.1 1195.48 L1608.1 1195.54 L1609.1 1195.59 L1610.1 1195.64 L1611.1 1195.68 L1612.1 1195.73 L1613.1 1195.77 L1614.1 1195.82 L1615.1 1195.86 L1616.1 1195.9 L1617.1 1195.94 L1618.1 1195.98 L1619.1 1196.01 L1620.1 1196.05 L1621.1 1196.08 L1622.1 1196.12 L1623.1 1196.15 L1624.1 1196.18 L1625.1 1196.21 L1626.1 1196.24 L1627.1 1196.27 L1628.1 1196.29 L1629.1 1196.32 L1630.1 1196.34 L1631.1 1196.36 L1632.1 1196.38 L1633.1 1196.4 L1634.1 1196.42 L1635.1 1196.43 L1636.1 1196.44 L1637.1 1196.45 L1638.1 1196.46 L1639.1 1196.47 L1640 1196.47 L1640.1 1196.47 L1641.1 1196.48 L1642.1 1196.48 L1643.1 1196.48 L1644.1 1196.48 L1645.1 1196.48 L1646.1 1196.48 L1647.1 1196.48 L1648.1 1196.48 L1649.1 1196.47 L1650.1 1196.47 L1651.1 1196.47 L1652.1 1196.46 L1653.1 1196.46 L1654.1 1196.46 L1655.1 1196.45 L1656.1 1196.45 L1657.1 1196.44 L1658.1 1196.44 L1659.1 1196.43 L1660.1 1196.43 L1661.1 1196.42 L1662.1 1196.42 L1663.1 1196.41 L1664.1 1196.41 L1665.1 1196.4 L1665.5 1196.4 L1666.1 1196.39 L1667.1 1196.39 L1668.1 1196.38 L1669.1 1196.38 L1670.1 1196.37 L1671.1 1196.36 L1672.1 1196.36 L1673.1 1196.35 L1674.1 1196.34 L1675.1 1196.33 L1676.1 1196.33 L1677.1 1196.32 L1678.1 1196.31 L1679.1 1196.3 L1680.1 1196.29 L1681.1 1196.28 L1682.1 1196.28 L1683.1 1196.27 L1684.1 1196.26 L1685.1 1196.25 L1686.1 1196.24 L1687.1 1196.23 L1688.1 1196.23 L1689.1 1196.22 L1690.1 1196.21 L1691.1 1196.2 L1692.1 1196.19 L1693.1 1196.19 L1694.1 1196.18 L1695.1 1196.17 L1696.1 1196.17 L1697.1 1196.16 L1698.1 1196.15 L1699.1 1196.15 L1700.1 1196.14 L1701.1 1196.14 L1702.1 1196.13 L1703.1 1196.13 L1704.1 1196.12 L1705.1 1196.12 L1706.1 1196.12 L1707.1 1196.11 L1708.1 1196.11 L1709.1 1196.11 L1710.1 1196.11 L1711 1196.11 L1711.1 1196.11 L1712.1 1196.1 L1713.1 1196.1 L1714.1 1196.1 L1715.1 1196.1 L1716.1 1196.1 L1717.1 1196.1 L1718.1 1196.1 L1719.1 1196.1 L1720.1 1196.1 L1721.1 1196.1 L1722.1 1196.1 L1723.1 1196.1 L1724.1 1196.1 L1725.1 1196.1 L1726.1 1196.1 L1727.1 1196.1 L1728.1 1196.1 L1729.1 1196.1 L1730.1 1196.1 L1731.1 1196.1 L1732.1 1196.1 L1733.1 1196.1 L1734.1 1196.1 L1735.1 1196.1 L1736.1 1196.1 L1737.1 1196.1 L1738.1 1196.1 L1739.1 1196.1 L1740.1 1196.1 L1741.1 1196.1 L1742.1 1196.1 L1743.1 1196.1 L1744.1 1196.1 L1745.1 1196.1 L1746.1 1196.1 L1747.1 1196.1 L1748.1 1196.1 L1749.1 1196.1 L1750.1 1196.1 L1751.1 1196.1 L1752.1 1196.1 L1753.1 1196.1 L1754.1 1196.1 L1755.1 1196.1 L1756.1 1196.1 L1756.6 1196.1 L1757.1 1196.1 L1758.1 1196.1 L1759.1 1196.1 L1760.1 1196.1 L1761.1 1196.1 L1762.1 1196.1 L1763.1 1196.1 L1764.1 1196.1 L1765.1 1196.1 L1766.1 1196.1 L1767.1 1196.1 L1768.1 1196.1 L1769.1 1196.1 L1770.1 1196.1 L1771.1 1196.1 L1772.1 1196.1 L1773.1 1196.1 L1774.1 1196.1 L1775.1 1196.1 L1776.1 1196.1 L1777.1 1196.1 L1778.1 1196.1 L1779.1 1196.1 L1780.1 1196.1 L1781.1 1196.1 L1782.1 1196.1 L1783.1 1196.1 L1784.1 1196.1 L1785.1 1196.1 L1786.1 1196.1 L1787.1 1196.1 L1788.1 1196.1 L1789.1 1196.1 L1790.1 1196.1 L1791.1 1196.1 L1792.1 1196.1 L1793.1 1196.1 L1794.1 1196.1 L1795.1 1196.1 L1796.1 1196.1 L1797.1 1196.1 L1798.1 1196.09 L1799.1 1196.09 L1800.1 1196.09 L1801.1 1196.08 L1802.1 1196.08 L1803.1 1196.07 L1804.1 1196.07 L1805.1 1196.06 L1806.1 1196.05 L1807.1 1196.04 L1808.1 1196.03 L1809.1 1196.01 L1810.1 1196 L1811.1 1195.98 L1812.1 1195.96 L1813.1 1195.94 L1814.1 1195.92 L1815.1 1195.89 L1816.1 1195.87 L1817.1 1195.84 L1818.1 1195.81 L1819.1 1195.78 L1820.1 1195.75 L1821.1 1195.72 L1822.1 1195.69 L1823.1 1195.65 L1824.1 1195.61 L1825.1 1195.57 L1826.1 1195.53 L1827.1 1195.49 L1828.1 1195.45 L1829.1 1195.4 L1830.1 1195.35 L1831.1 1195.3 L1832.1 1195.24 L1832.4 1195.22 L1833.1 1195.18 L1834.1 1195.11 L1835.1 1195.04 L1836.1 1194.97 L1837.1 1194.89 L1838.1 1194.81 L1839.1 1194.72 L1840.1 1194.63 L1841.1 1194.54 L1842.1 1194.44 L1843.1 1194.34 L1844.1 1194.24 L1845.1 1194.13 L1846.1 1194.02 L1847.1 1193.91 L1848.1 1193.8 L1849.1 1193.69 L1850.1 1193.57 L1851.1 1193.45 L1852.1 1193.34 L1853.1 1193.23 L1854.1 1193.12 L1855.1 1193.01 L1855.2 1193 L1856.1 1192.91 L1857.1 1192.8 L1858.1 1192.69 L1859.1 1192.58 L1860.1 1192.47 L1861.1 1192.36 L1862.1 1192.25 L1863.1 1192.14 L1864.1 1192.03 L1865.1 1191.93 L1866.1 1191.84 L1867.1 1191.75 L1868.1 1191.66 L1869.1 1191.59 L1870.1 1191.52 L1870.4 1191.5 L1871.1 1191.46 L1872.1 1191.4 L1873.1 1191.34 L1874.1 1191.28 L1875.1 1191.22 L1876.1 1191.16 L1877.1 1191.11 L1878.1 1191.06 L1879.1 1191.01 L1880.1 1190.96 L1881.1 1190.92 L1882.1 1190.89 L1883.1 1190.86 L1884.1 1190.83 L1885.1 1190.82 L1886.1 1190.8 L1887.1 1190.8 L1888.1 1190.81 L1889.1 1190.84 L1890.1 1190.89 L1891.1 1190.96 L1892.1 1191.05 L1893.1 1191.15 L1894.1 1191.26 L1895.1 1191.38 L1896.1 1191.52 L1897.1 1191.67 L1898.1 1191.82 L1899.1 1191.98 L1900.1 1192.14 L1901.1 1192.31 L1902.1 1192.48 L1903.1 1192.65 L1904.1 1192.82 L1905.1 1192.99 L1906.1 1193.16 L1907.1 1193.32 L1908.1 1193.47 L1908.3 1193.5 L1909.1 1193.62 L1910.1 1193.78 L1911.1 1193.95 L1912.1 1194.12 L1913.1 1194.3 L1914.1 1194.48 L1915.1 1194.66 L1916.1 1194.84 L1917.1 1195.01 L1918.1 1195.19 L1919.1 1195.36 L1920 1195.5 L1920.1 1195.52 L1921.1 1195.67 L1922.1 1195.83 L1923.1 1195.99 L1924.1 1196.14 L1925.1 1196.3 L1926.1 1196.45 L1927.1 1196.6 L1928.1 1196.76 L1929.1 1196.91 L1930.1 1197.06 L1931.1 1197.21 L1932.1 1197.36 L1933.1 1197.51 L1934.1 1197.65 L1935.1 1197.8 L1936.1 1197.95 L1937.1 1198.09 L1938.1 1198.23 L1939.1 1198.38 L1940.1 1198.52 L1941.1 1198.66 L1942.1 1198.8 L1943.1 1198.94 L1944.1 1199.07 L1945.1 1199.21 L1946.1 1199.34 L1947.1 1199.48 L1948.1 1199.61 L1949.1 1199.74 L1950.1 1199.87 L1951.1 1200 L1952.1 1200.12 L1953.1 1200.25 L1954.1 1200.37 L1955.1 1200.49 L1956 1200.6"/>
</g>
<rect x="1395" y="104.5" width="488" height="272.5" fill="#ffffff" stroke="#58595b" stroke-width="4"/>
<g fill="none" stroke-linecap="butt">
<path stroke="#353334" stroke-width="5.6" d="M1435 157.9 H1636"/>
<path stroke="#465ba7" stroke-width="11" d="M1435 240.5 H1636"/>
<path stroke="#ee3338" stroke-width="11" stroke-dasharray="33 7 17 7" d="M1435 323.3 H1636"/>
</g>
<text class="lg" transform="translate(1655.2 182) scale(1 1.02)">Uncont.</text>
<text class="lg" transform="translate(1655.2 264.8) scale(1 1.04)">CC1</text>
<text class="lg" transform="translate(1655.2 348.2) scale(1 1.04)">CC2</text>
</svg>
</body></html>
